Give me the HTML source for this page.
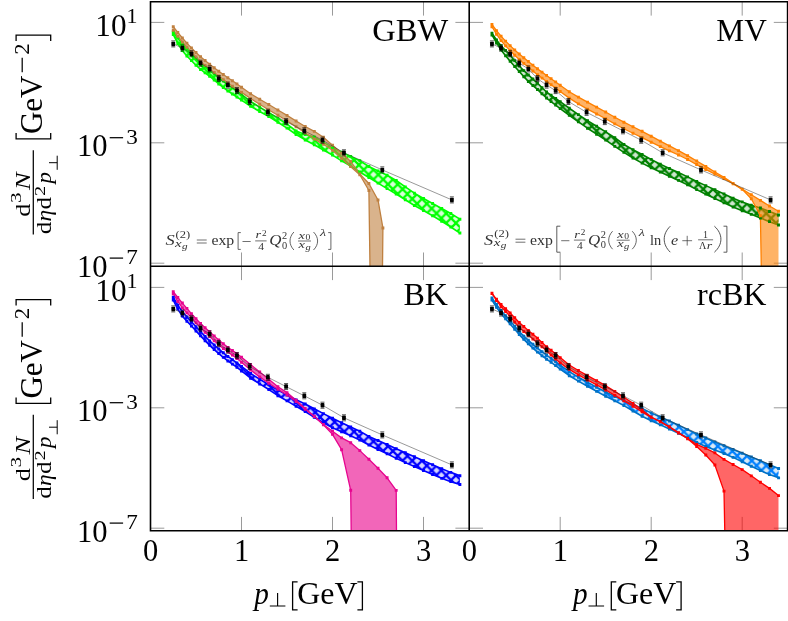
<!DOCTYPE html>
<html><head><meta charset="utf-8"><title>chart</title>
<style>
html,body{margin:0;padding:0;background:#fff;}
body{width:788px;height:621px;overflow:hidden;font-family:"Liberation Serif",serif;}
svg{display:block;}
svg text{font-family:"Liberation Serif",serif;fill:#000;}
.i{font-style:italic;}
</style></head><body>
<svg width="788" height="621" viewBox="0 0 788 621">
<rect width="788" height="621" fill="#fff"/>
<defs>
<pattern id="h_lime" width="9.7" height="9.7" patternUnits="userSpaceOnUse"><rect width="9.7" height="9.7" fill="#d8ffd8"/><path d="M-1 -1 L10.7 10.7 M-1 10.7 L10.7 -1" stroke="#00ff00" stroke-width="2.25" fill="none"/></pattern>
<pattern id="h_dgreen" width="9.7" height="9.7" patternUnits="userSpaceOnUse"><rect width="9.7" height="9.7" fill="#cfe6cf"/><path d="M-1 -1 L10.7 10.7 M-1 10.7 L10.7 -1" stroke="#008000" stroke-width="2.25" fill="none"/></pattern>
<pattern id="h_blue" width="9.7" height="9.7" patternUnits="userSpaceOnUse"><rect width="9.7" height="9.7" fill="#d4d4ff"/><path d="M-1 -1 L10.7 10.7 M-1 10.7 L10.7 -1" stroke="#0000ff" stroke-width="2.25" fill="none"/></pattern>
<pattern id="h_lblue" width="9.7" height="9.7" patternUnits="userSpaceOnUse"><rect width="9.7" height="9.7" fill="#d9e9f6"/><path d="M-1 -1 L10.7 10.7 M-1 10.7 L10.7 -1" stroke="#0080ff" stroke-width="2.25" fill="none"/></pattern>
<clipPath id="c00"><rect x="150.5" y="1.8" width="318.7" height="264.5"/></clipPath>
<clipPath id="c01"><rect x="469.2" y="1.8" width="318.4" height="264.5"/></clipPath>
<clipPath id="c10"><rect x="150.5" y="266.3" width="318.7" height="264.4"/></clipPath>
<clipPath id="c11"><rect x="469.2" y="266.3" width="318.4" height="264.4"/></clipPath>
</defs>
<path d="M150.5 22.4 h13.8 M469.2 22.4 h-13.8 M150.5 142.8 h13.8 M469.2 142.8 h-13.8 M150.5 263.2 h13.8 M469.2 263.2 h-13.8 M241.5 1.8 v13.8 M241.5 266.3 v-13.8 M332.5 1.8 v13.8 M332.5 266.3 v-13.8 M423.5 1.8 v13.8 M423.5 266.3 v-13.8 M469.2 22.4 h13.8 M787.6 22.4 h-13.8 M469.2 142.8 h13.8 M787.6 142.8 h-13.8 M469.2 263.2 h13.8 M787.6 263.2 h-13.8 M560.2 1.8 v13.8 M560.2 266.3 v-13.8 M651.2 1.8 v13.8 M651.2 266.3 v-13.8 M742.2 1.8 v13.8 M742.2 266.3 v-13.8 M150.5 287.4 h13.8 M469.2 287.4 h-13.8 M150.5 407.8 h13.8 M469.2 407.8 h-13.8 M150.5 528.2 h13.8 M469.2 528.2 h-13.8 M241.5 266.3 v13.8 M241.5 530.7 v-13.8 M332.5 266.3 v13.8 M332.5 530.7 v-13.8 M423.5 266.3 v13.8 M423.5 530.7 v-13.8 M469.2 287.4 h13.8 M787.6 287.4 h-13.8 M469.2 407.8 h13.8 M787.6 407.8 h-13.8 M469.2 528.2 h13.8 M787.6 528.2 h-13.8 M560.2 266.3 v13.8 M560.2 530.7 v-13.8 M651.2 266.3 v13.8 M651.2 530.7 v-13.8 M742.2 266.3 v13.8 M742.2 530.7 v-13.8" stroke="#808080" stroke-width="0.8" fill="none"/>
<g clip-path="url(#c00)">
<path d="M173.25 31.99 L177.8 38.15 L182.35 43.8 L186.9 48.86 L191.45 53.66 L196 58.52 L200.55 63.05 L205.1 66.94 L209.65 70.56 L214.2 74.09 L218.75 77.56 L223.3 81.15 L227.85 84.64 L232.4 87.76 L236.95 90.86 L241.5 94.37 L250.6 101.35 L259.7 107.1 L268.8 112.62 L277.9 118.22 L287 124.05 L296.1 130.9 L305.2 134.51 L314.3 136.92 L323.4 142.41 L332.5 147.33 L341.6 152.1 L350.7 156.45 L359.8 160.79 L368.9 166.53 L378 170.86 L387.1 175.27 L396.2 180.5 L405.3 186.86 L414.4 193.2 L423.5 198.5 L432.6 203.5 L441.7 208.48 L450.8 213.55 L459.9 219.18 L459.9 233.06 L450.8 226.99 L441.7 221.25 L432.6 215.77 L423.5 210.66 L414.4 205.5 L405.3 199.78 L396.2 193.99 L387.1 188.63 L378 183.15 L368.9 177.55 L359.8 172.04 L350.7 166.14 L341.6 160.92 L332.5 155.1 L323.4 150.04 L314.3 144.77 L305.2 139.93 L296.1 134.48 L287 128.13 L277.9 122.23 L268.8 116.6 L259.7 111.45 L250.6 106.29 L241.5 100.13 L236.95 96.97 L232.4 93.99 L227.85 90.94 L223.3 87.55 L218.75 83.96 L214.2 80.1 L209.65 76.26 L205.1 72.91 L200.55 69.44 L196 65.26 L191.45 60.65 L186.9 56 L182.35 50.64 L177.8 43.47 L173.25 34.54 Z" fill="url(#h_lime)" fill-opacity="1" stroke="none"/>
<path d="M173.25 31.99 L177.8 38.15 L182.35 43.8 L186.9 48.86 L191.45 53.66 L196 58.52 L200.55 63.05 L205.1 66.94 L209.65 70.56 L214.2 74.09 L218.75 77.56 L223.3 81.15 L227.85 84.64 L232.4 87.76 L236.95 90.86 L241.5 94.37 L250.6 101.35 L259.7 107.1 L268.8 112.62 L277.9 118.22 L287 124.05 L296.1 130.9 L305.2 134.51 L314.3 136.92 L323.4 142.41 L332.5 147.33 L341.6 152.1 L350.7 156.45 L359.8 160.79 L368.9 166.53 L378 170.86 L387.1 175.27 L396.2 180.5 L405.3 186.86 L414.4 193.2 L423.5 198.5 L432.6 203.5 L441.7 208.48 L450.8 213.55 L459.9 219.18" stroke="#00ff00" stroke-width="1.6" fill="none" stroke-linejoin="round"/>
<path d="M173.25 34.54 L177.8 43.47 L182.35 50.64 L186.9 56 L191.45 60.65 L196 65.26 L200.55 69.44 L205.1 72.91 L209.65 76.26 L214.2 80.1 L218.75 83.96 L223.3 87.55 L227.85 90.94 L232.4 93.99 L236.95 96.97 L241.5 100.13 L250.6 106.29 L259.7 111.45 L268.8 116.6 L277.9 122.23 L287 128.13 L296.1 134.48 L305.2 139.93 L314.3 144.77 L323.4 150.04 L332.5 155.1 L341.6 160.92 L350.7 166.14 L359.8 172.04 L368.9 177.55 L378 183.15 L387.1 188.63 L396.2 193.99 L405.3 199.78 L414.4 205.5 L423.5 210.66 L432.6 215.77 L441.7 221.25 L450.8 226.99 L459.9 233.06" stroke="#00ff00" stroke-width="1.6" fill="none" stroke-linejoin="round"/>
<path d="M173.25 26.71 L177.8 32.49 L182.35 37.94 L186.9 43.08 L191.45 47.9 L196 52.45 L200.55 56.69 L205.1 60.56 L209.65 64.21 L214.2 67.78 L218.75 71.21 L223.3 74.5 L227.85 77.68 L232.4 80.79 L236.95 83.91 L241.5 87.25 L250.6 93.77 L259.7 99.26 L268.8 104.55 L277.9 109.96 L287 115.42 L296.1 121.07 L305.2 126.46 L314.3 131.33 L323.4 137.3 L332.5 145.24 L341.6 152.95 L350.7 161.54 L359.8 173.98 L368.9 183.45 L378 199.96 L382.9 227.95 L382.5 268 L370 268 L368.9 190.55 L359.8 174.73 L350.7 166.66 L341.6 158.38 L332.5 150.33 L323.4 144.32 L314.3 139.04 L305.2 132.93 L296.1 126.73 L287 120.74 L277.9 115.28 L268.8 109.96 L259.7 104.31 L250.6 98.47 L241.5 92.41 L236.95 89.32 L232.4 86.26 L227.85 83.09 L223.3 79.6 L218.75 76.01 L214.2 72.54 L209.65 69.01 L205.1 65.39 L200.55 61.5 L196 56.98 L191.45 52.11 L186.9 47.22 L182.35 42.05 L177.8 36.38 L173.25 30.24 Z" fill="#bf8040" fill-opacity="0.6" stroke="none"/>
<path d="M173.25 26.71 L177.8 32.49 L182.35 37.94 L186.9 43.08 L191.45 47.9 L196 52.45 L200.55 56.69 L205.1 60.56 L209.65 64.21 L214.2 67.78 L218.75 71.21 L223.3 74.5 L227.85 77.68 L232.4 80.79 L236.95 83.91 L241.5 87.25 L250.6 93.77 L259.7 99.26 L268.8 104.55 L277.9 109.96 L287 115.42 L296.1 121.07 L305.2 126.46 L314.3 131.33 L323.4 137.3 L332.5 145.24 L341.6 152.95 L350.7 161.54 L359.8 173.98 L368.9 183.45 L378 199.96 L382.9 227.95 L382.5 268" stroke="#bf8040" stroke-width="1.3" fill="none" stroke-linejoin="round"/>
<path d="M173.25 30.24 L177.8 36.38 L182.35 42.05 L186.9 47.22 L191.45 52.11 L196 56.98 L200.55 61.5 L205.1 65.39 L209.65 69.01 L214.2 72.54 L218.75 76.01 L223.3 79.6 L227.85 83.09 L232.4 86.26 L236.95 89.32 L241.5 92.41 L250.6 98.47 L259.7 104.31 L268.8 109.96 L277.9 115.28 L287 120.74 L296.1 126.73 L305.2 132.93 L314.3 139.04 L323.4 144.32 L332.5 150.33 L341.6 158.38 L350.7 166.66 L359.8 174.73 L368.9 190.55 L370 268" stroke="#bf8040" stroke-width="1.3" fill="none" stroke-linejoin="round"/>
<path d="M171.8 30.54 h2.9 v2.9 h-2.9 Z M176.35 36.7 h2.9 v2.9 h-2.9 Z M180.9 42.35 h2.9 v2.9 h-2.9 Z M185.45 47.41 h2.9 v2.9 h-2.9 Z M190 52.21 h2.9 v2.9 h-2.9 Z M194.55 57.07 h2.9 v2.9 h-2.9 Z M199.1 61.6 h2.9 v2.9 h-2.9 Z M203.65 65.49 h2.9 v2.9 h-2.9 Z M208.2 69.11 h2.9 v2.9 h-2.9 Z M212.75 72.64 h2.9 v2.9 h-2.9 Z M217.3 76.11 h2.9 v2.9 h-2.9 Z M221.85 79.7 h2.9 v2.9 h-2.9 Z M226.4 83.19 h2.9 v2.9 h-2.9 Z M230.95 86.31 h2.9 v2.9 h-2.9 Z M235.5 89.41 h2.9 v2.9 h-2.9 Z M240.05 92.92 h2.9 v2.9 h-2.9 Z M249.15 99.9 h2.9 v2.9 h-2.9 Z M258.25 105.65 h2.9 v2.9 h-2.9 Z M267.35 111.17 h2.9 v2.9 h-2.9 Z M276.45 116.77 h2.9 v2.9 h-2.9 Z M285.55 122.6 h2.9 v2.9 h-2.9 Z M294.65 129.45 h2.9 v2.9 h-2.9 Z M303.75 133.06 h2.9 v2.9 h-2.9 Z M312.85 135.47 h2.9 v2.9 h-2.9 Z M321.95 140.96 h2.9 v2.9 h-2.9 Z M331.05 145.88 h2.9 v2.9 h-2.9 Z M340.15 150.65 h2.9 v2.9 h-2.9 Z M349.25 155 h2.9 v2.9 h-2.9 Z M358.35 159.34 h2.9 v2.9 h-2.9 Z M367.45 165.08 h2.9 v2.9 h-2.9 Z M376.55 169.41 h2.9 v2.9 h-2.9 Z M385.65 173.82 h2.9 v2.9 h-2.9 Z M394.75 179.05 h2.9 v2.9 h-2.9 Z M403.85 185.41 h2.9 v2.9 h-2.9 Z M412.95 191.75 h2.9 v2.9 h-2.9 Z M422.05 197.05 h2.9 v2.9 h-2.9 Z M431.15 202.05 h2.9 v2.9 h-2.9 Z M440.25 207.03 h2.9 v2.9 h-2.9 Z M449.35 212.1 h2.9 v2.9 h-2.9 Z M458.45 217.73 h2.9 v2.9 h-2.9 Z M171.8 33.09 h2.9 v2.9 h-2.9 Z M176.35 42.02 h2.9 v2.9 h-2.9 Z M180.9 49.19 h2.9 v2.9 h-2.9 Z M185.45 54.55 h2.9 v2.9 h-2.9 Z M190 59.2 h2.9 v2.9 h-2.9 Z M194.55 63.81 h2.9 v2.9 h-2.9 Z M199.1 67.99 h2.9 v2.9 h-2.9 Z M203.65 71.46 h2.9 v2.9 h-2.9 Z M208.2 74.81 h2.9 v2.9 h-2.9 Z M212.75 78.65 h2.9 v2.9 h-2.9 Z M217.3 82.51 h2.9 v2.9 h-2.9 Z M221.85 86.1 h2.9 v2.9 h-2.9 Z M226.4 89.49 h2.9 v2.9 h-2.9 Z M230.95 92.54 h2.9 v2.9 h-2.9 Z M235.5 95.52 h2.9 v2.9 h-2.9 Z M240.05 98.68 h2.9 v2.9 h-2.9 Z M249.15 104.84 h2.9 v2.9 h-2.9 Z M258.25 110 h2.9 v2.9 h-2.9 Z M267.35 115.15 h2.9 v2.9 h-2.9 Z M276.45 120.78 h2.9 v2.9 h-2.9 Z M285.55 126.68 h2.9 v2.9 h-2.9 Z M294.65 133.03 h2.9 v2.9 h-2.9 Z M303.75 138.48 h2.9 v2.9 h-2.9 Z M312.85 143.32 h2.9 v2.9 h-2.9 Z M321.95 148.59 h2.9 v2.9 h-2.9 Z M331.05 153.65 h2.9 v2.9 h-2.9 Z M340.15 159.47 h2.9 v2.9 h-2.9 Z M349.25 164.69 h2.9 v2.9 h-2.9 Z M358.35 170.59 h2.9 v2.9 h-2.9 Z M367.45 176.1 h2.9 v2.9 h-2.9 Z M376.55 181.7 h2.9 v2.9 h-2.9 Z M385.65 187.18 h2.9 v2.9 h-2.9 Z M394.75 192.54 h2.9 v2.9 h-2.9 Z M403.85 198.33 h2.9 v2.9 h-2.9 Z M412.95 204.05 h2.9 v2.9 h-2.9 Z M422.05 209.21 h2.9 v2.9 h-2.9 Z M431.15 214.32 h2.9 v2.9 h-2.9 Z M440.25 219.8 h2.9 v2.9 h-2.9 Z M449.35 225.54 h2.9 v2.9 h-2.9 Z M458.45 231.61 h2.9 v2.9 h-2.9 Z" fill="#00ff00"/>
<path d="M171.8 25.26 h2.9 v2.9 h-2.9 Z M176.35 31.04 h2.9 v2.9 h-2.9 Z M180.9 36.49 h2.9 v2.9 h-2.9 Z M185.45 41.63 h2.9 v2.9 h-2.9 Z M190 46.45 h2.9 v2.9 h-2.9 Z M194.55 51 h2.9 v2.9 h-2.9 Z M199.1 55.24 h2.9 v2.9 h-2.9 Z M203.65 59.11 h2.9 v2.9 h-2.9 Z M208.2 62.76 h2.9 v2.9 h-2.9 Z M212.75 66.33 h2.9 v2.9 h-2.9 Z M217.3 69.76 h2.9 v2.9 h-2.9 Z M221.85 73.05 h2.9 v2.9 h-2.9 Z M226.4 76.23 h2.9 v2.9 h-2.9 Z M230.95 79.34 h2.9 v2.9 h-2.9 Z M235.5 82.46 h2.9 v2.9 h-2.9 Z M240.05 85.8 h2.9 v2.9 h-2.9 Z M249.15 92.32 h2.9 v2.9 h-2.9 Z M258.25 97.81 h2.9 v2.9 h-2.9 Z M267.35 103.1 h2.9 v2.9 h-2.9 Z M276.45 108.51 h2.9 v2.9 h-2.9 Z M285.55 113.97 h2.9 v2.9 h-2.9 Z M294.65 119.62 h2.9 v2.9 h-2.9 Z M303.75 125.01 h2.9 v2.9 h-2.9 Z M312.85 129.88 h2.9 v2.9 h-2.9 Z M321.95 135.85 h2.9 v2.9 h-2.9 Z M331.05 143.79 h2.9 v2.9 h-2.9 Z M340.15 151.5 h2.9 v2.9 h-2.9 Z M349.25 160.09 h2.9 v2.9 h-2.9 Z M358.35 172.53 h2.9 v2.9 h-2.9 Z M367.45 182 h2.9 v2.9 h-2.9 Z M376.55 198.51 h2.9 v2.9 h-2.9 Z M381.45 226.5 h2.9 v2.9 h-2.9 Z M171.8 28.79 h2.9 v2.9 h-2.9 Z M176.35 34.93 h2.9 v2.9 h-2.9 Z M180.9 40.6 h2.9 v2.9 h-2.9 Z M185.45 45.77 h2.9 v2.9 h-2.9 Z M190 50.66 h2.9 v2.9 h-2.9 Z M194.55 55.53 h2.9 v2.9 h-2.9 Z M199.1 60.05 h2.9 v2.9 h-2.9 Z M203.65 63.94 h2.9 v2.9 h-2.9 Z M208.2 67.56 h2.9 v2.9 h-2.9 Z M212.75 71.09 h2.9 v2.9 h-2.9 Z M217.3 74.56 h2.9 v2.9 h-2.9 Z M221.85 78.15 h2.9 v2.9 h-2.9 Z M226.4 81.64 h2.9 v2.9 h-2.9 Z M230.95 84.81 h2.9 v2.9 h-2.9 Z M235.5 87.87 h2.9 v2.9 h-2.9 Z M240.05 90.96 h2.9 v2.9 h-2.9 Z M249.15 97.02 h2.9 v2.9 h-2.9 Z M258.25 102.86 h2.9 v2.9 h-2.9 Z M267.35 108.51 h2.9 v2.9 h-2.9 Z M276.45 113.83 h2.9 v2.9 h-2.9 Z M285.55 119.29 h2.9 v2.9 h-2.9 Z M294.65 125.28 h2.9 v2.9 h-2.9 Z M303.75 131.48 h2.9 v2.9 h-2.9 Z M312.85 137.59 h2.9 v2.9 h-2.9 Z M321.95 142.87 h2.9 v2.9 h-2.9 Z M331.05 148.88 h2.9 v2.9 h-2.9 Z M340.15 156.93 h2.9 v2.9 h-2.9 Z M349.25 165.21 h2.9 v2.9 h-2.9 Z M358.35 173.28 h2.9 v2.9 h-2.9 Z M367.45 189.1 h2.9 v2.9 h-2.9 Z" fill="#bf8040"/>
<path d="M173.25 43.9 L182.35 48 L191.45 53.7 L200.55 63.2 L209.65 68.9 L218.75 78.6 L227.85 85.1 L236.95 90.6 L249.69 101.5 L267.89 112.3 L286.09 121.6 L304.29 130.8 L322.49 140.2 L343.97 152.8 L382.28 169.9 L451.89 199.9" stroke="#333" stroke-width="0.5" fill="none"/>
<rect x="171.35" y="41.65" width="3.8" height="4.5" rx="0.9" fill="#000"/>
<path d="M171.25 40.9 h4 M171.25 46.9 h4" stroke="#000" stroke-width="0.7"/>
<rect x="180.45" y="45.75" width="3.8" height="4.5" rx="0.9" fill="#000"/>
<path d="M180.35 45 h4 M180.35 51 h4" stroke="#000" stroke-width="0.7"/>
<rect x="189.55" y="51.45" width="3.8" height="4.5" rx="0.9" fill="#000"/>
<path d="M189.45 50.7 h4 M189.45 56.7 h4" stroke="#000" stroke-width="0.7"/>
<rect x="198.65" y="60.95" width="3.8" height="4.5" rx="0.9" fill="#000"/>
<path d="M198.55 60.2 h4 M198.55 66.2 h4" stroke="#000" stroke-width="0.7"/>
<rect x="207.75" y="66.65" width="3.8" height="4.5" rx="0.9" fill="#000"/>
<path d="M207.65 65.9 h4 M207.65 71.9 h4" stroke="#000" stroke-width="0.7"/>
<rect x="216.85" y="76.35" width="3.8" height="4.5" rx="0.9" fill="#000"/>
<path d="M216.75 75.6 h4 M216.75 81.6 h4" stroke="#000" stroke-width="0.7"/>
<rect x="225.95" y="82.85" width="3.8" height="4.5" rx="0.9" fill="#000"/>
<path d="M225.85 82.1 h4 M225.85 88.1 h4" stroke="#000" stroke-width="0.7"/>
<rect x="235.05" y="88.35" width="3.8" height="4.5" rx="0.9" fill="#000"/>
<path d="M234.95 87.6 h4 M234.95 93.6 h4" stroke="#000" stroke-width="0.7"/>
<rect x="247.79" y="99.25" width="3.8" height="4.5" rx="0.9" fill="#000"/>
<path d="M247.69 98.5 h4 M247.69 104.5 h4" stroke="#000" stroke-width="0.7"/>
<rect x="265.99" y="110.05" width="3.8" height="4.5" rx="0.9" fill="#000"/>
<path d="M265.89 109.3 h4 M265.89 115.3 h4" stroke="#000" stroke-width="0.7"/>
<rect x="284.19" y="119.35" width="3.8" height="4.5" rx="0.9" fill="#000"/>
<path d="M284.09 118.6 h4 M284.09 124.6 h4" stroke="#000" stroke-width="0.7"/>
<rect x="302.39" y="128.55" width="3.8" height="4.5" rx="0.9" fill="#000"/>
<path d="M302.29 127.8 h4 M302.29 133.8 h4" stroke="#000" stroke-width="0.7"/>
<rect x="320.59" y="137.95" width="3.8" height="4.5" rx="0.9" fill="#000"/>
<path d="M320.49 137.2 h4 M320.49 143.2 h4" stroke="#000" stroke-width="0.7"/>
<rect x="342.07" y="150.55" width="3.8" height="4.5" rx="0.9" fill="#000"/>
<path d="M341.97 149.8 h4 M341.97 155.8 h4" stroke="#000" stroke-width="0.7"/>
<rect x="380.38" y="167.65" width="3.8" height="4.5" rx="0.9" fill="#000"/>
<path d="M380.28 166.9 h4 M380.28 172.9 h4" stroke="#000" stroke-width="0.7"/>
<rect x="449.99" y="197.65" width="3.8" height="4.5" rx="0.9" fill="#000"/>
<path d="M449.89 196.9 h4 M449.89 202.9 h4" stroke="#000" stroke-width="0.7"/>
</g>
<g clip-path="url(#c01)">
<path d="M491.95 33.29 L496.5 39.96 L501.05 45.78 L505.6 50.53 L510.15 55.16 L514.7 60.66 L519.25 66.06 L523.8 70.65 L528.35 74.94 L532.9 79.04 L537.45 83.15 L542 87.73 L546.55 92 L551.1 95.31 L555.65 98.42 L560.2 101.71 L569.3 108.25 L578.4 114.61 L587.5 120.68 L596.6 126.28 L605.7 131.82 L614.8 137.66 L623.9 144.51 L633 149.72 L642.1 154.55 L651.2 159.42 L660.3 164.11 L669.4 168.46 L678.5 172.58 L687.6 176.9 L696.7 181.42 L705.8 185.61 L714.9 189.64 L724 193.99 L733.1 198.17 L742.2 201.9 L751.3 205.2 L760.4 207.93 L769.5 211.54 L778.5 214.95 L778.5 225.05 L769.5 221.64 L760.4 217.94 L751.3 214.34 L742.2 210.72 L733.1 206.97 L724 202.86 L714.9 198.54 L705.8 194.16 L696.7 189.62 L687.6 184.87 L678.5 180.41 L669.4 176.23 L660.3 171.97 L651.2 167.69 L642.1 163.14 L633 158 L623.9 152.4 L614.8 146.39 L605.7 140.17 L596.6 134.2 L587.5 128.21 L578.4 121.88 L569.3 115.33 L560.2 108.6 L555.65 105.15 L551.1 101.67 L546.55 98.01 L542 93.8 L537.45 89.45 L532.9 85.56 L528.35 81.55 L523.8 76.73 L519.25 71.57 L514.7 66.49 L510.15 61.26 L505.6 55.84 L501.05 49.91 L496.5 42.93 L491.95 34.96 Z" fill="url(#h_dgreen)" fill-opacity="1" stroke="none"/>
<path d="M491.95 33.29 L496.5 39.96 L501.05 45.78 L505.6 50.53 L510.15 55.16 L514.7 60.66 L519.25 66.06 L523.8 70.65 L528.35 74.94 L532.9 79.04 L537.45 83.15 L542 87.73 L546.55 92 L551.1 95.31 L555.65 98.42 L560.2 101.71 L569.3 108.25 L578.4 114.61 L587.5 120.68 L596.6 126.28 L605.7 131.82 L614.8 137.66 L623.9 144.51 L633 149.72 L642.1 154.55 L651.2 159.42 L660.3 164.11 L669.4 168.46 L678.5 172.58 L687.6 176.9 L696.7 181.42 L705.8 185.61 L714.9 189.64 L724 193.99 L733.1 198.17 L742.2 201.9 L751.3 205.2 L760.4 207.93 L769.5 211.54 L778.5 214.95" stroke="#008000" stroke-width="1.6" fill="none" stroke-linejoin="round"/>
<path d="M491.95 34.96 L496.5 42.93 L501.05 49.91 L505.6 55.84 L510.15 61.26 L514.7 66.49 L519.25 71.57 L523.8 76.73 L528.35 81.55 L532.9 85.56 L537.45 89.45 L542 93.8 L546.55 98.01 L551.1 101.67 L555.65 105.15 L560.2 108.6 L569.3 115.33 L578.4 121.88 L587.5 128.21 L596.6 134.2 L605.7 140.17 L614.8 146.39 L623.9 152.4 L633 158 L642.1 163.14 L651.2 167.69 L660.3 171.97 L669.4 176.23 L678.5 180.41 L687.6 184.87 L696.7 189.62 L705.8 194.16 L714.9 198.54 L724 202.86 L733.1 206.97 L742.2 210.72 L751.3 214.34 L760.4 217.94 L769.5 221.64 L778.5 225.05" stroke="#008000" stroke-width="1.6" fill="none" stroke-linejoin="round"/>
<path d="M491.95 24.36 L496.5 30.58 L501.05 36.17 L505.6 41.12 L510.15 45.65 L514.7 49.91 L519.25 53.93 L523.8 57.73 L528.35 61.42 L532.9 65.14 L537.45 68.74 L542 72.12 L546.55 75.41 L551.1 78.67 L555.65 81.92 L560.2 85.3 L569.3 91.7 L578.4 97.08 L587.5 102.14 L596.6 107.1 L605.7 112.05 L614.8 117.2 L623.9 122.18 L633 126.74 L642.1 131.32 L651.2 136.19 L660.3 141.11 L669.4 145.89 L678.5 150.6 L687.6 155.61 L696.7 160.94 L705.8 166.41 L714.9 171.98 L724 177.39 L733.1 183.39 L742.2 189.1 L751.3 194.8 L760.4 200.36 L769.5 206.06 L778.5 211.3 L778.5 268 L761.3 268 L760.4 215.7 L751.3 198.7 L742.2 189.4 L733.1 183.69 L724 178.65 L714.9 174.15 L705.8 169.44 L696.7 164.56 L687.6 159.53 L678.5 155 L669.4 150.89 L660.3 146.66 L651.2 142.2 L642.1 137.69 L633 133.27 L623.9 128.77 L614.8 123.84 L605.7 118.74 L596.6 113.94 L587.5 109.1 L578.4 103.85 L569.3 98.14 L560.2 91.5 L555.65 88.03 L551.1 84.72 L546.55 81.41 L542 78.08 L537.45 74.64 L532.9 70.94 L528.35 67.12 L523.8 63.41 L519.25 59.54 L514.7 55.2 L510.15 50.55 L505.6 45.83 L501.05 40.59 L496.5 34.2 L491.95 26.74 Z" fill="#ff8000" fill-opacity="0.6" stroke="none"/>
<path d="M491.95 24.36 L496.5 30.58 L501.05 36.17 L505.6 41.12 L510.15 45.65 L514.7 49.91 L519.25 53.93 L523.8 57.73 L528.35 61.42 L532.9 65.14 L537.45 68.74 L542 72.12 L546.55 75.41 L551.1 78.67 L555.65 81.92 L560.2 85.3 L569.3 91.7 L578.4 97.08 L587.5 102.14 L596.6 107.1 L605.7 112.05 L614.8 117.2 L623.9 122.18 L633 126.74 L642.1 131.32 L651.2 136.19 L660.3 141.11 L669.4 145.89 L678.5 150.6 L687.6 155.61 L696.7 160.94 L705.8 166.41 L714.9 171.98 L724 177.39 L733.1 183.39 L742.2 189.1 L751.3 194.8 L760.4 200.36 L769.5 206.06 L778.5 211.3" stroke="#ff8000" stroke-width="1.3" fill="none" stroke-linejoin="round"/>
<path d="M491.95 26.74 L496.5 34.2 L501.05 40.59 L505.6 45.83 L510.15 50.55 L514.7 55.2 L519.25 59.54 L523.8 63.41 L528.35 67.12 L532.9 70.94 L537.45 74.64 L542 78.08 L546.55 81.41 L551.1 84.72 L555.65 88.03 L560.2 91.5 L569.3 98.14 L578.4 103.85 L587.5 109.1 L596.6 113.94 L605.7 118.74 L614.8 123.84 L623.9 128.77 L633 133.27 L642.1 137.69 L651.2 142.2 L660.3 146.66 L669.4 150.89 L678.5 155 L687.6 159.53 L696.7 164.56 L705.8 169.44 L714.9 174.15 L724 178.65 L733.1 183.69 L742.2 189.4 L751.3 198.7 L760.4 215.7 L761.3 268" stroke="#ff8000" stroke-width="1.3" fill="none" stroke-linejoin="round"/>
<path d="M490.5 31.84 h2.9 v2.9 h-2.9 Z M495.05 38.51 h2.9 v2.9 h-2.9 Z M499.6 44.33 h2.9 v2.9 h-2.9 Z M504.15 49.08 h2.9 v2.9 h-2.9 Z M508.7 53.71 h2.9 v2.9 h-2.9 Z M513.25 59.21 h2.9 v2.9 h-2.9 Z M517.8 64.61 h2.9 v2.9 h-2.9 Z M522.35 69.2 h2.9 v2.9 h-2.9 Z M526.9 73.49 h2.9 v2.9 h-2.9 Z M531.45 77.59 h2.9 v2.9 h-2.9 Z M536 81.7 h2.9 v2.9 h-2.9 Z M540.55 86.28 h2.9 v2.9 h-2.9 Z M545.1 90.55 h2.9 v2.9 h-2.9 Z M549.65 93.86 h2.9 v2.9 h-2.9 Z M554.2 96.97 h2.9 v2.9 h-2.9 Z M558.75 100.26 h2.9 v2.9 h-2.9 Z M567.85 106.8 h2.9 v2.9 h-2.9 Z M576.95 113.16 h2.9 v2.9 h-2.9 Z M586.05 119.23 h2.9 v2.9 h-2.9 Z M595.15 124.83 h2.9 v2.9 h-2.9 Z M604.25 130.37 h2.9 v2.9 h-2.9 Z M613.35 136.21 h2.9 v2.9 h-2.9 Z M622.45 143.06 h2.9 v2.9 h-2.9 Z M631.55 148.27 h2.9 v2.9 h-2.9 Z M640.65 153.1 h2.9 v2.9 h-2.9 Z M649.75 157.97 h2.9 v2.9 h-2.9 Z M658.85 162.66 h2.9 v2.9 h-2.9 Z M667.95 167.01 h2.9 v2.9 h-2.9 Z M677.05 171.13 h2.9 v2.9 h-2.9 Z M686.15 175.45 h2.9 v2.9 h-2.9 Z M695.25 179.97 h2.9 v2.9 h-2.9 Z M704.35 184.16 h2.9 v2.9 h-2.9 Z M713.45 188.19 h2.9 v2.9 h-2.9 Z M722.55 192.54 h2.9 v2.9 h-2.9 Z M731.65 196.72 h2.9 v2.9 h-2.9 Z M740.75 200.45 h2.9 v2.9 h-2.9 Z M749.85 203.75 h2.9 v2.9 h-2.9 Z M758.95 206.48 h2.9 v2.9 h-2.9 Z M768.05 210.09 h2.9 v2.9 h-2.9 Z M777.05 213.5 h2.9 v2.9 h-2.9 Z M490.5 33.51 h2.9 v2.9 h-2.9 Z M495.05 41.48 h2.9 v2.9 h-2.9 Z M499.6 48.46 h2.9 v2.9 h-2.9 Z M504.15 54.39 h2.9 v2.9 h-2.9 Z M508.7 59.81 h2.9 v2.9 h-2.9 Z M513.25 65.04 h2.9 v2.9 h-2.9 Z M517.8 70.12 h2.9 v2.9 h-2.9 Z M522.35 75.28 h2.9 v2.9 h-2.9 Z M526.9 80.1 h2.9 v2.9 h-2.9 Z M531.45 84.11 h2.9 v2.9 h-2.9 Z M536 88 h2.9 v2.9 h-2.9 Z M540.55 92.35 h2.9 v2.9 h-2.9 Z M545.1 96.56 h2.9 v2.9 h-2.9 Z M549.65 100.22 h2.9 v2.9 h-2.9 Z M554.2 103.7 h2.9 v2.9 h-2.9 Z M558.75 107.15 h2.9 v2.9 h-2.9 Z M567.85 113.88 h2.9 v2.9 h-2.9 Z M576.95 120.43 h2.9 v2.9 h-2.9 Z M586.05 126.76 h2.9 v2.9 h-2.9 Z M595.15 132.75 h2.9 v2.9 h-2.9 Z M604.25 138.72 h2.9 v2.9 h-2.9 Z M613.35 144.94 h2.9 v2.9 h-2.9 Z M622.45 150.95 h2.9 v2.9 h-2.9 Z M631.55 156.55 h2.9 v2.9 h-2.9 Z M640.65 161.69 h2.9 v2.9 h-2.9 Z M649.75 166.24 h2.9 v2.9 h-2.9 Z M658.85 170.52 h2.9 v2.9 h-2.9 Z M667.95 174.78 h2.9 v2.9 h-2.9 Z M677.05 178.96 h2.9 v2.9 h-2.9 Z M686.15 183.42 h2.9 v2.9 h-2.9 Z M695.25 188.17 h2.9 v2.9 h-2.9 Z M704.35 192.71 h2.9 v2.9 h-2.9 Z M713.45 197.09 h2.9 v2.9 h-2.9 Z M722.55 201.41 h2.9 v2.9 h-2.9 Z M731.65 205.52 h2.9 v2.9 h-2.9 Z M740.75 209.27 h2.9 v2.9 h-2.9 Z M749.85 212.89 h2.9 v2.9 h-2.9 Z M758.95 216.49 h2.9 v2.9 h-2.9 Z M768.05 220.19 h2.9 v2.9 h-2.9 Z M777.05 223.6 h2.9 v2.9 h-2.9 Z" fill="#008000"/>
<path d="M490.5 22.91 h2.9 v2.9 h-2.9 Z M495.05 29.13 h2.9 v2.9 h-2.9 Z M499.6 34.72 h2.9 v2.9 h-2.9 Z M504.15 39.67 h2.9 v2.9 h-2.9 Z M508.7 44.2 h2.9 v2.9 h-2.9 Z M513.25 48.46 h2.9 v2.9 h-2.9 Z M517.8 52.48 h2.9 v2.9 h-2.9 Z M522.35 56.28 h2.9 v2.9 h-2.9 Z M526.9 59.97 h2.9 v2.9 h-2.9 Z M531.45 63.69 h2.9 v2.9 h-2.9 Z M536 67.29 h2.9 v2.9 h-2.9 Z M540.55 70.67 h2.9 v2.9 h-2.9 Z M545.1 73.96 h2.9 v2.9 h-2.9 Z M549.65 77.22 h2.9 v2.9 h-2.9 Z M554.2 80.47 h2.9 v2.9 h-2.9 Z M558.75 83.85 h2.9 v2.9 h-2.9 Z M567.85 90.25 h2.9 v2.9 h-2.9 Z M576.95 95.63 h2.9 v2.9 h-2.9 Z M586.05 100.69 h2.9 v2.9 h-2.9 Z M595.15 105.65 h2.9 v2.9 h-2.9 Z M604.25 110.6 h2.9 v2.9 h-2.9 Z M613.35 115.75 h2.9 v2.9 h-2.9 Z M622.45 120.73 h2.9 v2.9 h-2.9 Z M631.55 125.29 h2.9 v2.9 h-2.9 Z M640.65 129.87 h2.9 v2.9 h-2.9 Z M649.75 134.74 h2.9 v2.9 h-2.9 Z M658.85 139.66 h2.9 v2.9 h-2.9 Z M667.95 144.44 h2.9 v2.9 h-2.9 Z M677.05 149.15 h2.9 v2.9 h-2.9 Z M686.15 154.16 h2.9 v2.9 h-2.9 Z M695.25 159.49 h2.9 v2.9 h-2.9 Z M704.35 164.96 h2.9 v2.9 h-2.9 Z M713.45 170.53 h2.9 v2.9 h-2.9 Z M722.55 175.94 h2.9 v2.9 h-2.9 Z M731.65 181.94 h2.9 v2.9 h-2.9 Z M740.75 187.65 h2.9 v2.9 h-2.9 Z M749.85 193.35 h2.9 v2.9 h-2.9 Z M758.95 198.91 h2.9 v2.9 h-2.9 Z M768.05 204.61 h2.9 v2.9 h-2.9 Z M777.05 209.85 h2.9 v2.9 h-2.9 Z M490.5 25.29 h2.9 v2.9 h-2.9 Z M495.05 32.75 h2.9 v2.9 h-2.9 Z M499.6 39.14 h2.9 v2.9 h-2.9 Z M504.15 44.38 h2.9 v2.9 h-2.9 Z M508.7 49.1 h2.9 v2.9 h-2.9 Z M513.25 53.75 h2.9 v2.9 h-2.9 Z M517.8 58.09 h2.9 v2.9 h-2.9 Z M522.35 61.96 h2.9 v2.9 h-2.9 Z M526.9 65.67 h2.9 v2.9 h-2.9 Z M531.45 69.49 h2.9 v2.9 h-2.9 Z M536 73.19 h2.9 v2.9 h-2.9 Z M540.55 76.63 h2.9 v2.9 h-2.9 Z M545.1 79.96 h2.9 v2.9 h-2.9 Z M549.65 83.27 h2.9 v2.9 h-2.9 Z M554.2 86.58 h2.9 v2.9 h-2.9 Z M558.75 90.05 h2.9 v2.9 h-2.9 Z M567.85 96.69 h2.9 v2.9 h-2.9 Z M576.95 102.4 h2.9 v2.9 h-2.9 Z M586.05 107.65 h2.9 v2.9 h-2.9 Z M595.15 112.49 h2.9 v2.9 h-2.9 Z M604.25 117.29 h2.9 v2.9 h-2.9 Z M613.35 122.39 h2.9 v2.9 h-2.9 Z M622.45 127.32 h2.9 v2.9 h-2.9 Z M631.55 131.82 h2.9 v2.9 h-2.9 Z M640.65 136.24 h2.9 v2.9 h-2.9 Z M649.75 140.75 h2.9 v2.9 h-2.9 Z M658.85 145.21 h2.9 v2.9 h-2.9 Z M667.95 149.44 h2.9 v2.9 h-2.9 Z M677.05 153.55 h2.9 v2.9 h-2.9 Z M686.15 158.08 h2.9 v2.9 h-2.9 Z M695.25 163.11 h2.9 v2.9 h-2.9 Z M704.35 167.99 h2.9 v2.9 h-2.9 Z M713.45 172.7 h2.9 v2.9 h-2.9 Z M722.55 177.2 h2.9 v2.9 h-2.9 Z M731.65 182.24 h2.9 v2.9 h-2.9 Z M740.75 187.95 h2.9 v2.9 h-2.9 Z M749.85 197.25 h2.9 v2.9 h-2.9 Z M758.95 214.25 h2.9 v2.9 h-2.9 Z" fill="#ff8000"/>
<path d="M491.95 43.9 L501.05 48 L510.15 53.7 L519.25 63.2 L528.35 68.9 L537.45 78.6 L546.55 85.1 L555.65 90.6 L568.39 101.5 L586.59 112.3 L604.79 121.6 L622.99 130.8 L641.19 140.2 L662.67 152.8 L700.98 169.9 L770.59 199.9" stroke="#333" stroke-width="0.5" fill="none"/>
<rect x="490.05" y="41.65" width="3.8" height="4.5" rx="0.9" fill="#000"/>
<path d="M489.95 40.9 h4 M489.95 46.9 h4" stroke="#000" stroke-width="0.7"/>
<rect x="499.15" y="45.75" width="3.8" height="4.5" rx="0.9" fill="#000"/>
<path d="M499.05 45 h4 M499.05 51 h4" stroke="#000" stroke-width="0.7"/>
<rect x="508.25" y="51.45" width="3.8" height="4.5" rx="0.9" fill="#000"/>
<path d="M508.15 50.7 h4 M508.15 56.7 h4" stroke="#000" stroke-width="0.7"/>
<rect x="517.35" y="60.95" width="3.8" height="4.5" rx="0.9" fill="#000"/>
<path d="M517.25 60.2 h4 M517.25 66.2 h4" stroke="#000" stroke-width="0.7"/>
<rect x="526.45" y="66.65" width="3.8" height="4.5" rx="0.9" fill="#000"/>
<path d="M526.35 65.9 h4 M526.35 71.9 h4" stroke="#000" stroke-width="0.7"/>
<rect x="535.55" y="76.35" width="3.8" height="4.5" rx="0.9" fill="#000"/>
<path d="M535.45 75.6 h4 M535.45 81.6 h4" stroke="#000" stroke-width="0.7"/>
<rect x="544.65" y="82.85" width="3.8" height="4.5" rx="0.9" fill="#000"/>
<path d="M544.55 82.1 h4 M544.55 88.1 h4" stroke="#000" stroke-width="0.7"/>
<rect x="553.75" y="88.35" width="3.8" height="4.5" rx="0.9" fill="#000"/>
<path d="M553.65 87.6 h4 M553.65 93.6 h4" stroke="#000" stroke-width="0.7"/>
<rect x="566.49" y="99.25" width="3.8" height="4.5" rx="0.9" fill="#000"/>
<path d="M566.39 98.5 h4 M566.39 104.5 h4" stroke="#000" stroke-width="0.7"/>
<rect x="584.69" y="110.05" width="3.8" height="4.5" rx="0.9" fill="#000"/>
<path d="M584.59 109.3 h4 M584.59 115.3 h4" stroke="#000" stroke-width="0.7"/>
<rect x="602.89" y="119.35" width="3.8" height="4.5" rx="0.9" fill="#000"/>
<path d="M602.79 118.6 h4 M602.79 124.6 h4" stroke="#000" stroke-width="0.7"/>
<rect x="621.09" y="128.55" width="3.8" height="4.5" rx="0.9" fill="#000"/>
<path d="M620.99 127.8 h4 M620.99 133.8 h4" stroke="#000" stroke-width="0.7"/>
<rect x="639.29" y="137.95" width="3.8" height="4.5" rx="0.9" fill="#000"/>
<path d="M639.19 137.2 h4 M639.19 143.2 h4" stroke="#000" stroke-width="0.7"/>
<rect x="660.77" y="150.55" width="3.8" height="4.5" rx="0.9" fill="#000"/>
<path d="M660.67 149.8 h4 M660.67 155.8 h4" stroke="#000" stroke-width="0.7"/>
<rect x="699.08" y="167.65" width="3.8" height="4.5" rx="0.9" fill="#000"/>
<path d="M698.98 166.9 h4 M698.98 172.9 h4" stroke="#000" stroke-width="0.7"/>
<rect x="768.69" y="197.65" width="3.8" height="4.5" rx="0.9" fill="#000"/>
<path d="M768.59 196.9 h4 M768.59 202.9 h4" stroke="#000" stroke-width="0.7"/>
</g>
<g clip-path="url(#c10)">
<path d="M173.25 297.23 L177.8 305.13 L182.35 311.71 L186.9 316.87 L191.45 321.69 L196 326.73 L200.55 331.66 L205.1 336.37 L209.65 340.84 L214.2 344.98 L218.75 348.93 L223.3 352.81 L227.85 356.46 L232.4 359.67 L236.95 362.84 L241.5 366.43 L250.6 373.49 L259.7 379.2 L268.8 384.61 L277.9 390.09 L287 395.14 L296.1 399.83 L305.2 404.04 L314.3 408.83 L323.4 413.66 L332.5 418.28 L341.6 422.79 L350.7 427.03 L359.8 431.22 L368.9 436.41 L378 440.54 L387.1 444.52 L396.2 448.71 L405.3 452.79 L414.4 456.73 L423.5 460.69 L432.6 464.72 L441.7 468.65 L450.8 472.37 L459.9 475.82 L459.9 484.46 L450.8 481.63 L441.7 478.33 L432.6 474.54 L423.5 470.48 L414.4 466.56 L405.3 462.63 L396.2 458.37 L387.1 453.82 L378 449.43 L368.9 445.02 L359.8 440.14 L350.7 435.8 L341.6 431.71 L332.5 427.71 L323.4 422.72 L314.3 417.27 L305.2 411.66 L296.1 406.33 L287 400.88 L277.9 395.7 L268.8 389.55 L259.7 383.94 L250.6 378.2 L241.5 370.99 L236.95 367.34 L232.4 364.15 L227.85 360.96 L223.3 357.41 L218.75 353.63 L214.2 349.62 L209.65 345.35 L205.1 340.71 L200.55 335.86 L196 330.95 L191.45 325.98 L186.9 321.28 L182.35 316.14 L177.8 309.06 L173.25 300.08 Z" fill="url(#h_blue)" fill-opacity="1" stroke="none"/>
<path d="M173.25 297.23 L177.8 305.13 L182.35 311.71 L186.9 316.87 L191.45 321.69 L196 326.73 L200.55 331.66 L205.1 336.37 L209.65 340.84 L214.2 344.98 L218.75 348.93 L223.3 352.81 L227.85 356.46 L232.4 359.67 L236.95 362.84 L241.5 366.43 L250.6 373.49 L259.7 379.2 L268.8 384.61 L277.9 390.09 L287 395.14 L296.1 399.83 L305.2 404.04 L314.3 408.83 L323.4 413.66 L332.5 418.28 L341.6 422.79 L350.7 427.03 L359.8 431.22 L368.9 436.41 L378 440.54 L387.1 444.52 L396.2 448.71 L405.3 452.79 L414.4 456.73 L423.5 460.69 L432.6 464.72 L441.7 468.65 L450.8 472.37 L459.9 475.82" stroke="#0000ff" stroke-width="1.6" fill="none" stroke-linejoin="round"/>
<path d="M173.25 300.08 L177.8 309.06 L182.35 316.14 L186.9 321.28 L191.45 325.98 L196 330.95 L200.55 335.86 L205.1 340.71 L209.65 345.35 L214.2 349.62 L218.75 353.63 L223.3 357.41 L227.85 360.96 L232.4 364.15 L236.95 367.34 L241.5 370.99 L250.6 378.2 L259.7 383.94 L268.8 389.55 L277.9 395.7 L287 400.88 L296.1 406.33 L305.2 411.66 L314.3 417.27 L323.4 422.72 L332.5 427.71 L341.6 431.71 L350.7 435.8 L359.8 440.14 L368.9 445.02 L378 449.43 L387.1 453.82 L396.2 458.37 L405.3 462.63 L414.4 466.56 L423.5 470.48 L432.6 474.54 L441.7 478.33 L450.8 481.63 L459.9 484.46" stroke="#0000ff" stroke-width="1.6" fill="none" stroke-linejoin="round"/>
<path d="M173.25 291.71 L177.8 297.49 L182.35 303.06 L186.9 308.41 L191.45 313.6 L196 318.74 L200.55 323.55 L205.1 327.73 L209.65 331.74 L214.2 335.89 L218.75 339.93 L223.3 343.77 L227.85 347.36 L232.4 350.51 L236.95 353.64 L241.5 357.17 L250.6 364.61 L259.7 371.97 L268.8 379.31 L277.9 386.69 L287 392.6 L296.1 400.19 L305.2 408.57 L314.3 416.15 L323.4 424.47 L332.5 431.15 L341.6 437.86 L350.7 442.69 L359.8 450.61 L368.9 459.19 L378 468.29 L387.1 477.8 L396.2 490.42 L396.5 532.5 L351.2 532.5 L350.7 490.3 L341.6 449.7 L332.5 434.39 L323.4 424.77 L314.3 416.45 L305.2 409.2 L296.1 401.52 L287 395.06 L277.9 389.25 L268.8 383.28 L259.7 376.9 L250.6 370.09 L241.5 362.35 L236.95 358.54 L232.4 355.16 L227.85 351.86 L223.3 348.44 L218.75 344.83 L214.2 340.81 L209.65 336.54 L205.1 332.2 L200.55 327.66 L196 322.72 L191.45 317.64 L186.9 312.92 L182.35 307.9 L177.8 301.46 L173.25 293.71 Z" fill="#e9008a" fill-opacity="0.6" stroke="none"/>
<path d="M173.25 291.71 L177.8 297.49 L182.35 303.06 L186.9 308.41 L191.45 313.6 L196 318.74 L200.55 323.55 L205.1 327.73 L209.65 331.74 L214.2 335.89 L218.75 339.93 L223.3 343.77 L227.85 347.36 L232.4 350.51 L236.95 353.64 L241.5 357.17 L250.6 364.61 L259.7 371.97 L268.8 379.31 L277.9 386.69 L287 392.6 L296.1 400.19 L305.2 408.57 L314.3 416.15 L323.4 424.47 L332.5 431.15 L341.6 437.86 L350.7 442.69 L359.8 450.61 L368.9 459.19 L378 468.29 L387.1 477.8 L396.2 490.42 L396.5 532.5" stroke="#e6058f" stroke-width="1.3" fill="none" stroke-linejoin="round"/>
<path d="M173.25 293.71 L177.8 301.46 L182.35 307.9 L186.9 312.92 L191.45 317.64 L196 322.72 L200.55 327.66 L205.1 332.2 L209.65 336.54 L214.2 340.81 L218.75 344.83 L223.3 348.44 L227.85 351.86 L232.4 355.16 L236.95 358.54 L241.5 362.35 L250.6 370.09 L259.7 376.9 L268.8 383.28 L277.9 389.25 L287 395.06 L296.1 401.52 L305.2 409.2 L314.3 416.45 L323.4 424.77 L332.5 434.39 L341.6 449.7 L350.7 490.3 L351.2 532.5" stroke="#e6058f" stroke-width="1.3" fill="none" stroke-linejoin="round"/>
<path d="M171.8 295.78 h2.9 v2.9 h-2.9 Z M176.35 303.68 h2.9 v2.9 h-2.9 Z M180.9 310.26 h2.9 v2.9 h-2.9 Z M185.45 315.42 h2.9 v2.9 h-2.9 Z M190 320.24 h2.9 v2.9 h-2.9 Z M194.55 325.28 h2.9 v2.9 h-2.9 Z M199.1 330.21 h2.9 v2.9 h-2.9 Z M203.65 334.92 h2.9 v2.9 h-2.9 Z M208.2 339.39 h2.9 v2.9 h-2.9 Z M212.75 343.53 h2.9 v2.9 h-2.9 Z M217.3 347.48 h2.9 v2.9 h-2.9 Z M221.85 351.36 h2.9 v2.9 h-2.9 Z M226.4 355.01 h2.9 v2.9 h-2.9 Z M230.95 358.22 h2.9 v2.9 h-2.9 Z M235.5 361.39 h2.9 v2.9 h-2.9 Z M240.05 364.98 h2.9 v2.9 h-2.9 Z M249.15 372.04 h2.9 v2.9 h-2.9 Z M258.25 377.75 h2.9 v2.9 h-2.9 Z M267.35 383.16 h2.9 v2.9 h-2.9 Z M276.45 388.64 h2.9 v2.9 h-2.9 Z M285.55 393.69 h2.9 v2.9 h-2.9 Z M294.65 398.38 h2.9 v2.9 h-2.9 Z M303.75 402.59 h2.9 v2.9 h-2.9 Z M312.85 407.38 h2.9 v2.9 h-2.9 Z M321.95 412.21 h2.9 v2.9 h-2.9 Z M331.05 416.83 h2.9 v2.9 h-2.9 Z M340.15 421.34 h2.9 v2.9 h-2.9 Z M349.25 425.58 h2.9 v2.9 h-2.9 Z M358.35 429.77 h2.9 v2.9 h-2.9 Z M367.45 434.96 h2.9 v2.9 h-2.9 Z M376.55 439.09 h2.9 v2.9 h-2.9 Z M385.65 443.07 h2.9 v2.9 h-2.9 Z M394.75 447.26 h2.9 v2.9 h-2.9 Z M403.85 451.34 h2.9 v2.9 h-2.9 Z M412.95 455.28 h2.9 v2.9 h-2.9 Z M422.05 459.24 h2.9 v2.9 h-2.9 Z M431.15 463.27 h2.9 v2.9 h-2.9 Z M440.25 467.2 h2.9 v2.9 h-2.9 Z M449.35 470.92 h2.9 v2.9 h-2.9 Z M458.45 474.37 h2.9 v2.9 h-2.9 Z M171.8 298.63 h2.9 v2.9 h-2.9 Z M176.35 307.61 h2.9 v2.9 h-2.9 Z M180.9 314.69 h2.9 v2.9 h-2.9 Z M185.45 319.83 h2.9 v2.9 h-2.9 Z M190 324.53 h2.9 v2.9 h-2.9 Z M194.55 329.5 h2.9 v2.9 h-2.9 Z M199.1 334.41 h2.9 v2.9 h-2.9 Z M203.65 339.26 h2.9 v2.9 h-2.9 Z M208.2 343.9 h2.9 v2.9 h-2.9 Z M212.75 348.17 h2.9 v2.9 h-2.9 Z M217.3 352.18 h2.9 v2.9 h-2.9 Z M221.85 355.96 h2.9 v2.9 h-2.9 Z M226.4 359.51 h2.9 v2.9 h-2.9 Z M230.95 362.7 h2.9 v2.9 h-2.9 Z M235.5 365.89 h2.9 v2.9 h-2.9 Z M240.05 369.54 h2.9 v2.9 h-2.9 Z M249.15 376.75 h2.9 v2.9 h-2.9 Z M258.25 382.49 h2.9 v2.9 h-2.9 Z M267.35 388.1 h2.9 v2.9 h-2.9 Z M276.45 394.25 h2.9 v2.9 h-2.9 Z M285.55 399.43 h2.9 v2.9 h-2.9 Z M294.65 404.88 h2.9 v2.9 h-2.9 Z M303.75 410.21 h2.9 v2.9 h-2.9 Z M312.85 415.82 h2.9 v2.9 h-2.9 Z M321.95 421.27 h2.9 v2.9 h-2.9 Z M331.05 426.26 h2.9 v2.9 h-2.9 Z M340.15 430.26 h2.9 v2.9 h-2.9 Z M349.25 434.35 h2.9 v2.9 h-2.9 Z M358.35 438.69 h2.9 v2.9 h-2.9 Z M367.45 443.57 h2.9 v2.9 h-2.9 Z M376.55 447.98 h2.9 v2.9 h-2.9 Z M385.65 452.37 h2.9 v2.9 h-2.9 Z M394.75 456.92 h2.9 v2.9 h-2.9 Z M403.85 461.18 h2.9 v2.9 h-2.9 Z M412.95 465.11 h2.9 v2.9 h-2.9 Z M422.05 469.03 h2.9 v2.9 h-2.9 Z M431.15 473.09 h2.9 v2.9 h-2.9 Z M440.25 476.88 h2.9 v2.9 h-2.9 Z M449.35 480.18 h2.9 v2.9 h-2.9 Z M458.45 483.01 h2.9 v2.9 h-2.9 Z" fill="#0000ff"/>
<path d="M171.8 290.26 h2.9 v2.9 h-2.9 Z M176.35 296.04 h2.9 v2.9 h-2.9 Z M180.9 301.61 h2.9 v2.9 h-2.9 Z M185.45 306.96 h2.9 v2.9 h-2.9 Z M190 312.15 h2.9 v2.9 h-2.9 Z M194.55 317.29 h2.9 v2.9 h-2.9 Z M199.1 322.1 h2.9 v2.9 h-2.9 Z M203.65 326.28 h2.9 v2.9 h-2.9 Z M208.2 330.29 h2.9 v2.9 h-2.9 Z M212.75 334.44 h2.9 v2.9 h-2.9 Z M217.3 338.48 h2.9 v2.9 h-2.9 Z M221.85 342.32 h2.9 v2.9 h-2.9 Z M226.4 345.91 h2.9 v2.9 h-2.9 Z M230.95 349.06 h2.9 v2.9 h-2.9 Z M235.5 352.19 h2.9 v2.9 h-2.9 Z M240.05 355.72 h2.9 v2.9 h-2.9 Z M249.15 363.16 h2.9 v2.9 h-2.9 Z M258.25 370.52 h2.9 v2.9 h-2.9 Z M267.35 377.86 h2.9 v2.9 h-2.9 Z M276.45 385.24 h2.9 v2.9 h-2.9 Z M285.55 391.15 h2.9 v2.9 h-2.9 Z M294.65 398.74 h2.9 v2.9 h-2.9 Z M303.75 407.12 h2.9 v2.9 h-2.9 Z M312.85 414.7 h2.9 v2.9 h-2.9 Z M321.95 423.02 h2.9 v2.9 h-2.9 Z M331.05 429.7 h2.9 v2.9 h-2.9 Z M340.15 436.41 h2.9 v2.9 h-2.9 Z M349.25 441.24 h2.9 v2.9 h-2.9 Z M358.35 449.16 h2.9 v2.9 h-2.9 Z M367.45 457.74 h2.9 v2.9 h-2.9 Z M376.55 466.84 h2.9 v2.9 h-2.9 Z M385.65 476.35 h2.9 v2.9 h-2.9 Z M394.75 488.97 h2.9 v2.9 h-2.9 Z M171.8 292.26 h2.9 v2.9 h-2.9 Z M176.35 300.01 h2.9 v2.9 h-2.9 Z M180.9 306.45 h2.9 v2.9 h-2.9 Z M185.45 311.47 h2.9 v2.9 h-2.9 Z M190 316.19 h2.9 v2.9 h-2.9 Z M194.55 321.27 h2.9 v2.9 h-2.9 Z M199.1 326.21 h2.9 v2.9 h-2.9 Z M203.65 330.75 h2.9 v2.9 h-2.9 Z M208.2 335.09 h2.9 v2.9 h-2.9 Z M212.75 339.36 h2.9 v2.9 h-2.9 Z M217.3 343.38 h2.9 v2.9 h-2.9 Z M221.85 346.99 h2.9 v2.9 h-2.9 Z M226.4 350.41 h2.9 v2.9 h-2.9 Z M230.95 353.71 h2.9 v2.9 h-2.9 Z M235.5 357.09 h2.9 v2.9 h-2.9 Z M240.05 360.9 h2.9 v2.9 h-2.9 Z M249.15 368.64 h2.9 v2.9 h-2.9 Z M258.25 375.45 h2.9 v2.9 h-2.9 Z M267.35 381.83 h2.9 v2.9 h-2.9 Z M276.45 387.8 h2.9 v2.9 h-2.9 Z M285.55 393.61 h2.9 v2.9 h-2.9 Z M294.65 400.07 h2.9 v2.9 h-2.9 Z M303.75 407.75 h2.9 v2.9 h-2.9 Z M312.85 415 h2.9 v2.9 h-2.9 Z M321.95 423.32 h2.9 v2.9 h-2.9 Z M331.05 432.94 h2.9 v2.9 h-2.9 Z M340.15 448.25 h2.9 v2.9 h-2.9 Z M349.25 488.85 h2.9 v2.9 h-2.9 Z" fill="#e6058f"/>
<path d="M173.25 308.9 L182.35 313 L191.45 318.7 L200.55 328.2 L209.65 333.9 L218.75 343.6 L227.85 350.1 L236.95 355.6 L249.69 366.5 L267.89 377.3 L286.09 386.6 L304.29 395.8 L322.49 405.2 L343.97 417.8 L382.28 434.9 L451.89 464.9" stroke="#333" stroke-width="0.5" fill="none"/>
<rect x="171.35" y="306.65" width="3.8" height="4.5" rx="0.9" fill="#000"/>
<path d="M171.25 305.9 h4 M171.25 311.9 h4" stroke="#000" stroke-width="0.7"/>
<rect x="180.45" y="310.75" width="3.8" height="4.5" rx="0.9" fill="#000"/>
<path d="M180.35 310 h4 M180.35 316 h4" stroke="#000" stroke-width="0.7"/>
<rect x="189.55" y="316.45" width="3.8" height="4.5" rx="0.9" fill="#000"/>
<path d="M189.45 315.7 h4 M189.45 321.7 h4" stroke="#000" stroke-width="0.7"/>
<rect x="198.65" y="325.95" width="3.8" height="4.5" rx="0.9" fill="#000"/>
<path d="M198.55 325.2 h4 M198.55 331.2 h4" stroke="#000" stroke-width="0.7"/>
<rect x="207.75" y="331.65" width="3.8" height="4.5" rx="0.9" fill="#000"/>
<path d="M207.65 330.9 h4 M207.65 336.9 h4" stroke="#000" stroke-width="0.7"/>
<rect x="216.85" y="341.35" width="3.8" height="4.5" rx="0.9" fill="#000"/>
<path d="M216.75 340.6 h4 M216.75 346.6 h4" stroke="#000" stroke-width="0.7"/>
<rect x="225.95" y="347.85" width="3.8" height="4.5" rx="0.9" fill="#000"/>
<path d="M225.85 347.1 h4 M225.85 353.1 h4" stroke="#000" stroke-width="0.7"/>
<rect x="235.05" y="353.35" width="3.8" height="4.5" rx="0.9" fill="#000"/>
<path d="M234.95 352.6 h4 M234.95 358.6 h4" stroke="#000" stroke-width="0.7"/>
<rect x="247.79" y="364.25" width="3.8" height="4.5" rx="0.9" fill="#000"/>
<path d="M247.69 363.5 h4 M247.69 369.5 h4" stroke="#000" stroke-width="0.7"/>
<rect x="265.99" y="375.05" width="3.8" height="4.5" rx="0.9" fill="#000"/>
<path d="M265.89 374.3 h4 M265.89 380.3 h4" stroke="#000" stroke-width="0.7"/>
<rect x="284.19" y="384.35" width="3.8" height="4.5" rx="0.9" fill="#000"/>
<path d="M284.09 383.6 h4 M284.09 389.6 h4" stroke="#000" stroke-width="0.7"/>
<rect x="302.39" y="393.55" width="3.8" height="4.5" rx="0.9" fill="#000"/>
<path d="M302.29 392.8 h4 M302.29 398.8 h4" stroke="#000" stroke-width="0.7"/>
<rect x="320.59" y="402.95" width="3.8" height="4.5" rx="0.9" fill="#000"/>
<path d="M320.49 402.2 h4 M320.49 408.2 h4" stroke="#000" stroke-width="0.7"/>
<rect x="342.07" y="415.55" width="3.8" height="4.5" rx="0.9" fill="#000"/>
<path d="M341.97 414.8 h4 M341.97 420.8 h4" stroke="#000" stroke-width="0.7"/>
<rect x="380.38" y="432.65" width="3.8" height="4.5" rx="0.9" fill="#000"/>
<path d="M380.28 431.9 h4 M380.28 437.9 h4" stroke="#000" stroke-width="0.7"/>
<rect x="449.99" y="462.65" width="3.8" height="4.5" rx="0.9" fill="#000"/>
<path d="M449.89 461.9 h4 M449.89 467.9 h4" stroke="#000" stroke-width="0.7"/>
</g>
<g clip-path="url(#c11)">
<path d="M491.95 298.02 L496.5 304.54 L501.05 310.49 L505.6 315.71 L510.15 320.81 L514.7 326.36 L519.25 331.58 L523.8 336.11 L528.35 340.32 L532.9 344.3 L537.45 348.09 L542 351.72 L546.55 355.19 L551.1 358.41 L555.65 361.63 L560.2 365.1 L569.3 371.71 L578.4 377.18 L587.5 382.27 L596.6 387.27 L605.7 392 L614.8 396.43 L623.9 400.63 L633 404.55 L642.1 408.57 L651.2 412.85 L660.3 416.92 L669.4 421.06 L678.5 425.28 L687.6 429.61 L696.7 433.93 L705.8 438.01 L714.9 441.91 L724 445.72 L733.1 449.49 L742.2 453.2 L751.3 456.96 L760.4 460.82 L769.5 464.67 L778.6 468.44 L778.6 477.87 L769.5 474.58 L760.4 470.64 L751.3 466.31 L742.2 461.7 L733.1 457.4 L724 453.53 L714.9 450.01 L705.8 446.49 L696.7 442.45 L687.6 437.81 L678.5 433.19 L669.4 428.94 L660.3 424.83 L651.2 420.77 L642.1 416.21 L633 410.98 L623.9 405.57 L614.8 400.86 L605.7 396.32 L596.6 391.41 L587.5 386.28 L578.4 381.15 L569.3 375.71 L560.2 369.1 L555.65 365.63 L551.1 362.41 L546.55 359.19 L542 355.75 L537.45 352.09 L532.9 348.11 L528.35 343.84 L523.8 339.36 L519.25 334.6 L514.7 329.36 L510.15 323.91 L505.6 318.87 L501.05 313.59 L496.5 307.28 L491.95 300.09 Z" fill="url(#h_lblue)" fill-opacity="1" stroke="none"/>
<path d="M491.95 298.02 L496.5 304.54 L501.05 310.49 L505.6 315.71 L510.15 320.81 L514.7 326.36 L519.25 331.58 L523.8 336.11 L528.35 340.32 L532.9 344.3 L537.45 348.09 L542 351.72 L546.55 355.19 L551.1 358.41 L555.65 361.63 L560.2 365.1 L569.3 371.71 L578.4 377.18 L587.5 382.27 L596.6 387.27 L605.7 392 L614.8 396.43 L623.9 400.63 L633 404.55 L642.1 408.57 L651.2 412.85 L660.3 416.92 L669.4 421.06 L678.5 425.28 L687.6 429.61 L696.7 433.93 L705.8 438.01 L714.9 441.91 L724 445.72 L733.1 449.49 L742.2 453.2 L751.3 456.96 L760.4 460.82 L769.5 464.67 L778.6 468.44" stroke="#0072c6" stroke-width="1.6" fill="none" stroke-linejoin="round"/>
<path d="M491.95 300.09 L496.5 307.28 L501.05 313.59 L505.6 318.87 L510.15 323.91 L514.7 329.36 L519.25 334.6 L523.8 339.36 L528.35 343.84 L532.9 348.11 L537.45 352.09 L542 355.75 L546.55 359.19 L551.1 362.41 L555.65 365.63 L560.2 369.1 L569.3 375.71 L578.4 381.15 L587.5 386.28 L596.6 391.41 L605.7 396.32 L614.8 400.86 L623.9 405.57 L633 410.98 L642.1 416.21 L651.2 420.77 L660.3 424.83 L669.4 428.94 L678.5 433.19 L687.6 437.81 L696.7 442.45 L705.8 446.49 L714.9 450.01 L724 453.53 L733.1 457.4 L742.2 461.7 L751.3 466.31 L760.4 470.64 L769.5 474.58 L778.6 477.87" stroke="#0072c6" stroke-width="1.6" fill="none" stroke-linejoin="round"/>
<path d="M491.95 293.23 L496.5 299.27 L501.05 304.36 L505.6 308.63 L510.15 312.85 L514.7 317.72 L519.25 322.43 L523.8 326.57 L528.35 330.5 L532.9 334.26 L537.45 338.11 L542 342.49 L546.55 346.7 L551.1 350.2 L555.65 353.66 L560.2 357.59 L569.3 364.97 L578.4 370.55 L587.5 375.68 L596.6 380.6 L605.7 385.69 L614.8 391.37 L623.9 397.32 L633 403.38 L642.1 409.99 L651.2 417.03 L660.3 421.49 L669.4 426.79 L678.5 432.63 L687.6 438.5 L696.7 444.35 L705.8 448.4 L714.9 452.92 L724 459.35 L733.1 464.54 L742.2 469.65 L751.3 475.83 L760.4 482.31 L769.5 488.38 L778.5 495.6 L778.5 532.5 L724.8 532.5 L724 491.13 L714.9 465.02 L705.8 454.95 L696.7 446.54 L687.6 438.8 L678.5 432.93 L669.4 427.09 L660.3 421.79 L651.2 417.33 L642.1 411.82 L633 406.31 L623.9 400.84 L614.8 395.36 L605.7 389.97 L596.6 384.93 L587.5 379.98 L578.4 374.87 L569.3 369.42 L560.2 362.85 L555.65 359.14 L551.1 355.08 L546.55 350.84 L542 346.82 L537.45 342.9 L532.9 339.09 L528.35 335.3 L523.8 331.48 L519.25 327.36 L514.7 322.05 L510.15 316.3 L505.6 311.56 L501.05 306.68 L496.5 300.49 L491.95 293.53 Z" fill="#ff0000" fill-opacity="0.6" stroke="none"/>
<path d="M491.95 293.23 L496.5 299.27 L501.05 304.36 L505.6 308.63 L510.15 312.85 L514.7 317.72 L519.25 322.43 L523.8 326.57 L528.35 330.5 L532.9 334.26 L537.45 338.11 L542 342.49 L546.55 346.7 L551.1 350.2 L555.65 353.66 L560.2 357.59 L569.3 364.97 L578.4 370.55 L587.5 375.68 L596.6 380.6 L605.7 385.69 L614.8 391.37 L623.9 397.32 L633 403.38 L642.1 409.99 L651.2 417.03 L660.3 421.49 L669.4 426.79 L678.5 432.63 L687.6 438.5 L696.7 444.35 L705.8 448.4 L714.9 452.92 L724 459.35 L733.1 464.54 L742.2 469.65 L751.3 475.83 L760.4 482.31 L769.5 488.38 L778.5 495.6" stroke="#ff0000" stroke-width="1.3" fill="none" stroke-linejoin="round"/>
<path d="M491.95 293.53 L496.5 300.49 L501.05 306.68 L505.6 311.56 L510.15 316.3 L514.7 322.05 L519.25 327.36 L523.8 331.48 L528.35 335.3 L532.9 339.09 L537.45 342.9 L542 346.82 L546.55 350.84 L551.1 355.08 L555.65 359.14 L560.2 362.85 L569.3 369.42 L578.4 374.87 L587.5 379.98 L596.6 384.93 L605.7 389.97 L614.8 395.36 L623.9 400.84 L633 406.31 L642.1 411.82 L651.2 417.33 L660.3 421.79 L669.4 427.09 L678.5 432.93 L687.6 438.8 L696.7 446.54 L705.8 454.95 L714.9 465.02 L724 491.13 L724.8 532.5" stroke="#ff0000" stroke-width="1.3" fill="none" stroke-linejoin="round"/>
<path d="M490.5 296.57 h2.9 v2.9 h-2.9 Z M495.05 303.09 h2.9 v2.9 h-2.9 Z M499.6 309.04 h2.9 v2.9 h-2.9 Z M504.15 314.26 h2.9 v2.9 h-2.9 Z M508.7 319.36 h2.9 v2.9 h-2.9 Z M513.25 324.91 h2.9 v2.9 h-2.9 Z M517.8 330.13 h2.9 v2.9 h-2.9 Z M522.35 334.66 h2.9 v2.9 h-2.9 Z M526.9 338.87 h2.9 v2.9 h-2.9 Z M531.45 342.85 h2.9 v2.9 h-2.9 Z M536 346.64 h2.9 v2.9 h-2.9 Z M540.55 350.27 h2.9 v2.9 h-2.9 Z M545.1 353.74 h2.9 v2.9 h-2.9 Z M549.65 356.96 h2.9 v2.9 h-2.9 Z M554.2 360.18 h2.9 v2.9 h-2.9 Z M558.75 363.65 h2.9 v2.9 h-2.9 Z M567.85 370.26 h2.9 v2.9 h-2.9 Z M576.95 375.73 h2.9 v2.9 h-2.9 Z M586.05 380.82 h2.9 v2.9 h-2.9 Z M595.15 385.82 h2.9 v2.9 h-2.9 Z M604.25 390.55 h2.9 v2.9 h-2.9 Z M613.35 394.98 h2.9 v2.9 h-2.9 Z M622.45 399.18 h2.9 v2.9 h-2.9 Z M631.55 403.1 h2.9 v2.9 h-2.9 Z M640.65 407.12 h2.9 v2.9 h-2.9 Z M649.75 411.4 h2.9 v2.9 h-2.9 Z M658.85 415.47 h2.9 v2.9 h-2.9 Z M667.95 419.61 h2.9 v2.9 h-2.9 Z M677.05 423.83 h2.9 v2.9 h-2.9 Z M686.15 428.16 h2.9 v2.9 h-2.9 Z M695.25 432.48 h2.9 v2.9 h-2.9 Z M704.35 436.56 h2.9 v2.9 h-2.9 Z M713.45 440.46 h2.9 v2.9 h-2.9 Z M722.55 444.27 h2.9 v2.9 h-2.9 Z M731.65 448.04 h2.9 v2.9 h-2.9 Z M740.75 451.75 h2.9 v2.9 h-2.9 Z M749.85 455.51 h2.9 v2.9 h-2.9 Z M758.95 459.37 h2.9 v2.9 h-2.9 Z M768.05 463.22 h2.9 v2.9 h-2.9 Z M777.15 466.99 h2.9 v2.9 h-2.9 Z M490.5 298.64 h2.9 v2.9 h-2.9 Z M495.05 305.83 h2.9 v2.9 h-2.9 Z M499.6 312.14 h2.9 v2.9 h-2.9 Z M504.15 317.42 h2.9 v2.9 h-2.9 Z M508.7 322.46 h2.9 v2.9 h-2.9 Z M513.25 327.91 h2.9 v2.9 h-2.9 Z M517.8 333.15 h2.9 v2.9 h-2.9 Z M522.35 337.91 h2.9 v2.9 h-2.9 Z M526.9 342.39 h2.9 v2.9 h-2.9 Z M531.45 346.66 h2.9 v2.9 h-2.9 Z M536 350.64 h2.9 v2.9 h-2.9 Z M540.55 354.3 h2.9 v2.9 h-2.9 Z M545.1 357.74 h2.9 v2.9 h-2.9 Z M549.65 360.96 h2.9 v2.9 h-2.9 Z M554.2 364.18 h2.9 v2.9 h-2.9 Z M558.75 367.65 h2.9 v2.9 h-2.9 Z M567.85 374.26 h2.9 v2.9 h-2.9 Z M576.95 379.7 h2.9 v2.9 h-2.9 Z M586.05 384.83 h2.9 v2.9 h-2.9 Z M595.15 389.96 h2.9 v2.9 h-2.9 Z M604.25 394.87 h2.9 v2.9 h-2.9 Z M613.35 399.41 h2.9 v2.9 h-2.9 Z M622.45 404.12 h2.9 v2.9 h-2.9 Z M631.55 409.53 h2.9 v2.9 h-2.9 Z M640.65 414.76 h2.9 v2.9 h-2.9 Z M649.75 419.32 h2.9 v2.9 h-2.9 Z M658.85 423.38 h2.9 v2.9 h-2.9 Z M667.95 427.49 h2.9 v2.9 h-2.9 Z M677.05 431.74 h2.9 v2.9 h-2.9 Z M686.15 436.36 h2.9 v2.9 h-2.9 Z M695.25 441 h2.9 v2.9 h-2.9 Z M704.35 445.04 h2.9 v2.9 h-2.9 Z M713.45 448.56 h2.9 v2.9 h-2.9 Z M722.55 452.08 h2.9 v2.9 h-2.9 Z M731.65 455.95 h2.9 v2.9 h-2.9 Z M740.75 460.25 h2.9 v2.9 h-2.9 Z M749.85 464.86 h2.9 v2.9 h-2.9 Z M758.95 469.19 h2.9 v2.9 h-2.9 Z M768.05 473.13 h2.9 v2.9 h-2.9 Z M777.15 476.42 h2.9 v2.9 h-2.9 Z" fill="#0072c6"/>
<path d="M490.5 291.78 h2.9 v2.9 h-2.9 Z M495.05 297.82 h2.9 v2.9 h-2.9 Z M499.6 302.91 h2.9 v2.9 h-2.9 Z M504.15 307.18 h2.9 v2.9 h-2.9 Z M508.7 311.4 h2.9 v2.9 h-2.9 Z M513.25 316.27 h2.9 v2.9 h-2.9 Z M517.8 320.98 h2.9 v2.9 h-2.9 Z M522.35 325.12 h2.9 v2.9 h-2.9 Z M526.9 329.05 h2.9 v2.9 h-2.9 Z M531.45 332.81 h2.9 v2.9 h-2.9 Z M536 336.66 h2.9 v2.9 h-2.9 Z M540.55 341.04 h2.9 v2.9 h-2.9 Z M545.1 345.25 h2.9 v2.9 h-2.9 Z M549.65 348.75 h2.9 v2.9 h-2.9 Z M554.2 352.21 h2.9 v2.9 h-2.9 Z M558.75 356.14 h2.9 v2.9 h-2.9 Z M567.85 363.52 h2.9 v2.9 h-2.9 Z M576.95 369.1 h2.9 v2.9 h-2.9 Z M586.05 374.23 h2.9 v2.9 h-2.9 Z M595.15 379.15 h2.9 v2.9 h-2.9 Z M604.25 384.24 h2.9 v2.9 h-2.9 Z M613.35 389.92 h2.9 v2.9 h-2.9 Z M622.45 395.87 h2.9 v2.9 h-2.9 Z M631.55 401.93 h2.9 v2.9 h-2.9 Z M640.65 408.54 h2.9 v2.9 h-2.9 Z M649.75 415.58 h2.9 v2.9 h-2.9 Z M658.85 420.04 h2.9 v2.9 h-2.9 Z M667.95 425.34 h2.9 v2.9 h-2.9 Z M677.05 431.18 h2.9 v2.9 h-2.9 Z M686.15 437.05 h2.9 v2.9 h-2.9 Z M695.25 442.9 h2.9 v2.9 h-2.9 Z M704.35 446.95 h2.9 v2.9 h-2.9 Z M713.45 451.47 h2.9 v2.9 h-2.9 Z M722.55 457.9 h2.9 v2.9 h-2.9 Z M731.65 463.09 h2.9 v2.9 h-2.9 Z M740.75 468.2 h2.9 v2.9 h-2.9 Z M749.85 474.38 h2.9 v2.9 h-2.9 Z M758.95 480.86 h2.9 v2.9 h-2.9 Z M768.05 486.93 h2.9 v2.9 h-2.9 Z M777.05 494.15 h2.9 v2.9 h-2.9 Z M490.5 292.08 h2.9 v2.9 h-2.9 Z M495.05 299.04 h2.9 v2.9 h-2.9 Z M499.6 305.23 h2.9 v2.9 h-2.9 Z M504.15 310.11 h2.9 v2.9 h-2.9 Z M508.7 314.85 h2.9 v2.9 h-2.9 Z M513.25 320.6 h2.9 v2.9 h-2.9 Z M517.8 325.91 h2.9 v2.9 h-2.9 Z M522.35 330.03 h2.9 v2.9 h-2.9 Z M526.9 333.85 h2.9 v2.9 h-2.9 Z M531.45 337.64 h2.9 v2.9 h-2.9 Z M536 341.45 h2.9 v2.9 h-2.9 Z M540.55 345.37 h2.9 v2.9 h-2.9 Z M545.1 349.39 h2.9 v2.9 h-2.9 Z M549.65 353.63 h2.9 v2.9 h-2.9 Z M554.2 357.69 h2.9 v2.9 h-2.9 Z M558.75 361.4 h2.9 v2.9 h-2.9 Z M567.85 367.97 h2.9 v2.9 h-2.9 Z M576.95 373.42 h2.9 v2.9 h-2.9 Z M586.05 378.53 h2.9 v2.9 h-2.9 Z M595.15 383.48 h2.9 v2.9 h-2.9 Z M604.25 388.52 h2.9 v2.9 h-2.9 Z M613.35 393.91 h2.9 v2.9 h-2.9 Z M622.45 399.39 h2.9 v2.9 h-2.9 Z M631.55 404.86 h2.9 v2.9 h-2.9 Z M640.65 410.37 h2.9 v2.9 h-2.9 Z M649.75 415.88 h2.9 v2.9 h-2.9 Z M658.85 420.34 h2.9 v2.9 h-2.9 Z M667.95 425.64 h2.9 v2.9 h-2.9 Z M677.05 431.48 h2.9 v2.9 h-2.9 Z M686.15 437.35 h2.9 v2.9 h-2.9 Z M695.25 445.09 h2.9 v2.9 h-2.9 Z M704.35 453.5 h2.9 v2.9 h-2.9 Z M713.45 463.57 h2.9 v2.9 h-2.9 Z M722.55 489.68 h2.9 v2.9 h-2.9 Z" fill="#ff0000"/>
<path d="M491.95 308.9 L501.05 313 L510.15 318.7 L519.25 328.2 L528.35 333.9 L537.45 343.6 L546.55 350.1 L555.65 355.6 L568.39 366.5 L586.59 377.3 L604.79 386.6 L622.99 395.8 L641.19 405.2 L662.67 417.8 L700.98 434.9 L770.59 464.9" stroke="#333" stroke-width="0.5" fill="none"/>
<rect x="490.05" y="306.65" width="3.8" height="4.5" rx="0.9" fill="#000"/>
<path d="M489.95 305.9 h4 M489.95 311.9 h4" stroke="#000" stroke-width="0.7"/>
<rect x="499.15" y="310.75" width="3.8" height="4.5" rx="0.9" fill="#000"/>
<path d="M499.05 310 h4 M499.05 316 h4" stroke="#000" stroke-width="0.7"/>
<rect x="508.25" y="316.45" width="3.8" height="4.5" rx="0.9" fill="#000"/>
<path d="M508.15 315.7 h4 M508.15 321.7 h4" stroke="#000" stroke-width="0.7"/>
<rect x="517.35" y="325.95" width="3.8" height="4.5" rx="0.9" fill="#000"/>
<path d="M517.25 325.2 h4 M517.25 331.2 h4" stroke="#000" stroke-width="0.7"/>
<rect x="526.45" y="331.65" width="3.8" height="4.5" rx="0.9" fill="#000"/>
<path d="M526.35 330.9 h4 M526.35 336.9 h4" stroke="#000" stroke-width="0.7"/>
<rect x="535.55" y="341.35" width="3.8" height="4.5" rx="0.9" fill="#000"/>
<path d="M535.45 340.6 h4 M535.45 346.6 h4" stroke="#000" stroke-width="0.7"/>
<rect x="544.65" y="347.85" width="3.8" height="4.5" rx="0.9" fill="#000"/>
<path d="M544.55 347.1 h4 M544.55 353.1 h4" stroke="#000" stroke-width="0.7"/>
<rect x="553.75" y="353.35" width="3.8" height="4.5" rx="0.9" fill="#000"/>
<path d="M553.65 352.6 h4 M553.65 358.6 h4" stroke="#000" stroke-width="0.7"/>
<rect x="566.49" y="364.25" width="3.8" height="4.5" rx="0.9" fill="#000"/>
<path d="M566.39 363.5 h4 M566.39 369.5 h4" stroke="#000" stroke-width="0.7"/>
<rect x="584.69" y="375.05" width="3.8" height="4.5" rx="0.9" fill="#000"/>
<path d="M584.59 374.3 h4 M584.59 380.3 h4" stroke="#000" stroke-width="0.7"/>
<rect x="602.89" y="384.35" width="3.8" height="4.5" rx="0.9" fill="#000"/>
<path d="M602.79 383.6 h4 M602.79 389.6 h4" stroke="#000" stroke-width="0.7"/>
<rect x="621.09" y="393.55" width="3.8" height="4.5" rx="0.9" fill="#000"/>
<path d="M620.99 392.8 h4 M620.99 398.8 h4" stroke="#000" stroke-width="0.7"/>
<rect x="639.29" y="402.95" width="3.8" height="4.5" rx="0.9" fill="#000"/>
<path d="M639.19 402.2 h4 M639.19 408.2 h4" stroke="#000" stroke-width="0.7"/>
<rect x="660.77" y="415.55" width="3.8" height="4.5" rx="0.9" fill="#000"/>
<path d="M660.67 414.8 h4 M660.67 420.8 h4" stroke="#000" stroke-width="0.7"/>
<rect x="699.08" y="432.65" width="3.8" height="4.5" rx="0.9" fill="#000"/>
<path d="M698.98 431.9 h4 M698.98 437.9 h4" stroke="#000" stroke-width="0.7"/>
<rect x="768.69" y="462.65" width="3.8" height="4.5" rx="0.9" fill="#000"/>
<path d="M768.59 461.9 h4 M768.59 467.9 h4" stroke="#000" stroke-width="0.7"/>
</g>
<path d="M150.5 1.8 H787.6 V530.7 H150.5 Z M469.2 1.8 V530.7 M150.5 266.3 H787.6" stroke="#000" stroke-width="1.6" fill="none"/>
<g opacity="0.999">
<text x="95.3" y="35.7" font-size="30.5" textLength="31.2" lengthAdjust="spacingAndGlyphs">10</text>
<text x="126.4" y="23.1" font-size="21.5" textLength="11" lengthAdjust="spacingAndGlyphs">1</text>
<text x="77" y="156.1" font-size="30.5" textLength="30.6" lengthAdjust="spacingAndGlyphs">10</text>
<path d="M109.7 137.7 H123.1" stroke="#000" stroke-width="1.25" fill="none" stroke-linecap="butt"/>
<text x="126.2" y="143.5" font-size="21.5" textLength="11.6" lengthAdjust="spacingAndGlyphs">3</text>
<text x="77" y="276.5" font-size="30.5" textLength="30.6" lengthAdjust="spacingAndGlyphs">10</text>
<path d="M109.7 258.1 H123.1" stroke="#000" stroke-width="1.25" fill="none" stroke-linecap="butt"/>
<text x="126.2" y="263.9" font-size="21.5" textLength="11.6" lengthAdjust="spacingAndGlyphs">7</text>
<text x="95.3" y="300.7" font-size="30.5" textLength="31.2" lengthAdjust="spacingAndGlyphs">10</text>
<text x="126.4" y="288.1" font-size="21.5" textLength="11" lengthAdjust="spacingAndGlyphs">1</text>
<text x="77" y="421.1" font-size="30.5" textLength="30.6" lengthAdjust="spacingAndGlyphs">10</text>
<path d="M109.7 402.7 H123.1" stroke="#000" stroke-width="1.25" fill="none" stroke-linecap="butt"/>
<text x="126.2" y="408.5" font-size="21.5" textLength="11.6" lengthAdjust="spacingAndGlyphs">3</text>
<text x="77" y="541.5" font-size="30.5" textLength="30.6" lengthAdjust="spacingAndGlyphs">10</text>
<path d="M109.7 523.1 H123.1" stroke="#000" stroke-width="1.25" fill="none" stroke-linecap="butt"/>
<text x="126.2" y="528.9" font-size="21.5" textLength="11.6" lengthAdjust="spacingAndGlyphs">7</text>
<text x="150.6" y="560.9" font-size="30.5" text-anchor="middle">0</text>
<text x="241.6" y="560.9" font-size="30.5" text-anchor="middle">1</text>
<text x="332.6" y="560.9" font-size="30.5" text-anchor="middle">2</text>
<text x="423.6" y="560.9" font-size="30.5" text-anchor="middle">3</text>
<text x="469.3" y="560.9" font-size="30.5" text-anchor="middle">0</text>
<text x="560.3" y="560.9" font-size="30.5" text-anchor="middle">1</text>
<text x="651.3" y="560.9" font-size="30.5" text-anchor="middle">2</text>
<text x="742.3" y="560.9" font-size="30.5" text-anchor="middle">3</text>
<text x="372.3" y="40.9" font-size="32" textLength="76" lengthAdjust="spacingAndGlyphs">GBW</text>
<text x="716.3" y="40.9" font-size="32" textLength="50.5" lengthAdjust="spacingAndGlyphs">MV</text>
<text x="403.4" y="305" font-size="32" textLength="44.6" lengthAdjust="spacingAndGlyphs">BK</text>
<text x="697" y="305" font-size="32" textLength="69.5" lengthAdjust="spacingAndGlyphs">rcBK</text>
<text x="254.2" y="603.8" font-size="32" class="i" textLength="14.6" lengthAdjust="spacingAndGlyphs">p</text>
<path d="M269.8 606 H285.4 M277.6 606 V593.1" stroke="#000" stroke-width="1.15" fill="none" stroke-linecap="butt"/>
<path d="M297.6 581.8 H292.6 V609.8 H297.6" stroke="#000" stroke-width="1.3" fill="none" stroke-linecap="butt"/>
<text x="297.3" y="603.8" font-size="32" textLength="60.3" lengthAdjust="spacingAndGlyphs">GeV</text>
<path d="M357.4 581.8 H362.4 V609.8 H357.4" stroke="#000" stroke-width="1.3" fill="none" stroke-linecap="butt"/>
<text x="572.9" y="603.8" font-size="32" class="i" textLength="14.6" lengthAdjust="spacingAndGlyphs">p</text>
<path d="M588.5 606 H604.1 M596.3 606 V593.1" stroke="#000" stroke-width="1.15" fill="none" stroke-linecap="butt"/>
<path d="M616.3 581.8 H611.3 V609.8 H616.3" stroke="#000" stroke-width="1.3" fill="none" stroke-linecap="butt"/>
<text x="616" y="603.8" font-size="32" textLength="60.3" lengthAdjust="spacingAndGlyphs">GeV</text>
<path d="M676.1 581.8 H681.1 V609.8 H676.1" stroke="#000" stroke-width="1.3" fill="none" stroke-linecap="butt"/>
<g transform="translate(41.6 134.5) rotate(-90)">
<path d="M-99.9 -8.3 H-15.8" stroke="#000" stroke-width="1.25" fill="none" stroke-linecap="butt"/>
<text x="-82.2" y="-11.8" font-size="21.5" textLength="13.2" lengthAdjust="spacingAndGlyphs">d</text>
<text x="-68.4" y="-20.6" font-size="15.5" textLength="10.6" lengthAdjust="spacingAndGlyphs">3</text>
<text x="-55.6" y="-11.8" font-size="21.5" class="i" textLength="17.6" lengthAdjust="spacingAndGlyphs">N</text>
<text x="-99.8" y="8.9" font-size="21.5" textLength="12.6" lengthAdjust="spacingAndGlyphs">d</text>
<text x="-87" y="8.9" font-size="21.5" class="i" textLength="11.6" lengthAdjust="spacingAndGlyphs">&#951;</text>
<text x="-75" y="8.9" font-size="21.5" textLength="12.6" lengthAdjust="spacingAndGlyphs">d</text>
<text x="-61.6" y="3.2" font-size="15.5" textLength="10.2" lengthAdjust="spacingAndGlyphs">2</text>
<text x="-49" y="8.9" font-size="21.5" class="i" textLength="11.4" lengthAdjust="spacingAndGlyphs">p</text>
<path d="M-35.3 15.6 H-21.2 M-28.2 15.6 V7.4" stroke="#000" stroke-width="1" fill="none" stroke-linecap="butt"/>
<path d="M1.6 -25.5 H-4.4 V9.1 H1.6" stroke="#000" stroke-width="1.3" fill="none" stroke-linecap="butt"/>
<text x="0.4" y="0" font-size="32" textLength="58.6" lengthAdjust="spacingAndGlyphs">GeV</text>
<path d="M62.3 -19.4 H76.8" stroke="#000" stroke-width="1.25" fill="none" stroke-linecap="butt"/>
<text x="79.8" y="-12.6" font-size="21.5" textLength="11.4" lengthAdjust="spacingAndGlyphs">2</text>
<path d="M93.4 -25.5 H99.4 V9.1 H93.4" stroke="#000" stroke-width="1.3" fill="none" stroke-linecap="butt"/>
</g>
<g transform="translate(41.6 399) rotate(-90)">
<path d="M-99.9 -8.3 H-15.8" stroke="#000" stroke-width="1.25" fill="none" stroke-linecap="butt"/>
<text x="-82.2" y="-11.8" font-size="21.5" textLength="13.2" lengthAdjust="spacingAndGlyphs">d</text>
<text x="-68.4" y="-20.6" font-size="15.5" textLength="10.6" lengthAdjust="spacingAndGlyphs">3</text>
<text x="-55.6" y="-11.8" font-size="21.5" class="i" textLength="17.6" lengthAdjust="spacingAndGlyphs">N</text>
<text x="-99.8" y="8.9" font-size="21.5" textLength="12.6" lengthAdjust="spacingAndGlyphs">d</text>
<text x="-87" y="8.9" font-size="21.5" class="i" textLength="11.6" lengthAdjust="spacingAndGlyphs">&#951;</text>
<text x="-75" y="8.9" font-size="21.5" textLength="12.6" lengthAdjust="spacingAndGlyphs">d</text>
<text x="-61.6" y="3.2" font-size="15.5" textLength="10.2" lengthAdjust="spacingAndGlyphs">2</text>
<text x="-49" y="8.9" font-size="21.5" class="i" textLength="11.4" lengthAdjust="spacingAndGlyphs">p</text>
<path d="M-35.3 15.6 H-21.2 M-28.2 15.6 V7.4" stroke="#000" stroke-width="1" fill="none" stroke-linecap="butt"/>
<path d="M1.6 -25.5 H-4.4 V9.1 H1.6" stroke="#000" stroke-width="1.3" fill="none" stroke-linecap="butt"/>
<text x="0.4" y="0" font-size="32" textLength="58.6" lengthAdjust="spacingAndGlyphs">GeV</text>
<path d="M62.3 -19.4 H76.8" stroke="#000" stroke-width="1.25" fill="none" stroke-linecap="butt"/>
<text x="79.8" y="-12.6" font-size="21.5" textLength="11.4" lengthAdjust="spacingAndGlyphs">2</text>
<path d="M93.4 -25.5 H99.4 V9.1 H93.4" stroke="#000" stroke-width="1.3" fill="none" stroke-linecap="butt"/>
</g>
<text x="165.4" y="245.3" font-size="15" class="i" textLength="9.2" lengthAdjust="spacingAndGlyphs" fill="#333" style="fill:#333">S</text>
<text x="175.6" y="238.1" font-size="10.8" textLength="14.6" lengthAdjust="spacingAndGlyphs" fill="#333" style="fill:#333">(2)</text>
<text x="175" y="246.7" font-size="10.8" class="i" textLength="6.6" lengthAdjust="spacingAndGlyphs" fill="#333" style="fill:#333">x</text>
<text x="182" y="248.9" font-size="9" class="i" textLength="5.6" lengthAdjust="spacingAndGlyphs" fill="#333" style="fill:#333">g</text>
<path d="M196.8 240 H206.7 M196.8 243 H206.7" stroke="#333" stroke-width="0.7" fill="none"/>
<text x="211.4" y="245.3" font-size="15" textLength="22.8" lengthAdjust="spacingAndGlyphs" fill="#333" style="fill:#333">exp</text>
<path d="M242.5 241.5 H250.7" stroke="#333" stroke-width="0.7" fill="none"/>
<path d="M255.2 240.9 H266.6" stroke="#333" stroke-width="0.7" fill="none"/>
<text x="255.6" y="238.3" font-size="10.8" class="i" textLength="5.6" lengthAdjust="spacingAndGlyphs" fill="#333" style="fill:#333">r</text>
<text x="262" y="235.9" font-size="9" textLength="4.6" lengthAdjust="spacingAndGlyphs" fill="#333" style="fill:#333">2</text>
<text x="258.2" y="249.8" font-size="10.8" textLength="5.8" lengthAdjust="spacingAndGlyphs" fill="#333" style="fill:#333">4</text>
<text x="269.3" y="245.3" font-size="15" class="i" textLength="12.2" lengthAdjust="spacingAndGlyphs" fill="#333" style="fill:#333">Q</text>
<text x="282" y="239.1" font-size="10.8" textLength="5.2" lengthAdjust="spacingAndGlyphs" fill="#333" style="fill:#333">2</text>
<text x="282" y="248.5" font-size="10.8" textLength="5.2" lengthAdjust="spacingAndGlyphs" fill="#333" style="fill:#333">0</text>
<path d="M293.9 232 C288.7 237.4 288.7 244.6 293.9 250" stroke="#333" stroke-width="0.75" fill="none"/>
<path d="M298 241 H311" stroke="#333" stroke-width="0.7" fill="none"/>
<text x="298.6" y="238.7" font-size="10.8" class="i" textLength="6.4" lengthAdjust="spacingAndGlyphs" fill="#333" style="fill:#333">x</text>
<text x="305.6" y="240.1" font-size="9" textLength="4.8" lengthAdjust="spacingAndGlyphs" fill="#333" style="fill:#333">0</text>
<text x="298.6" y="247.8" font-size="10.8" class="i" textLength="6.4" lengthAdjust="spacingAndGlyphs" fill="#333" style="fill:#333">x</text>
<text x="305.4" y="249.9" font-size="9" class="i" textLength="5.2" lengthAdjust="spacingAndGlyphs" fill="#333" style="fill:#333">g</text>
<path d="M313.5 232 C318.97 237.4 318.97 244.6 313.5 250" stroke="#333" stroke-width="0.75" fill="none"/>
<text x="320" y="236.3" font-size="10.8" class="i" textLength="6" lengthAdjust="spacingAndGlyphs" fill="#333" style="fill:#333">&#955;</text>
<path d="M240.8 232.6 H238.1 V249.4 H240.8" stroke="#333" stroke-width="0.75" fill="none"/>
<path d="M328.2 232.6 H330.9 V249.4 H328.2" stroke="#333" stroke-width="0.75" fill="none"/>
<text x="484.1" y="244.5" font-size="15" class="i" textLength="9.2" lengthAdjust="spacingAndGlyphs" fill="#333" style="fill:#333">S</text>
<text x="494.3" y="237.3" font-size="10.8" textLength="14.6" lengthAdjust="spacingAndGlyphs" fill="#333" style="fill:#333">(2)</text>
<text x="493.7" y="245.9" font-size="10.8" class="i" textLength="6.6" lengthAdjust="spacingAndGlyphs" fill="#333" style="fill:#333">x</text>
<text x="500.7" y="248.1" font-size="9" class="i" textLength="5.6" lengthAdjust="spacingAndGlyphs" fill="#333" style="fill:#333">g</text>
<path d="M515.5 239.2 H525.4 M515.5 242.2 H525.4" stroke="#333" stroke-width="0.7" fill="none"/>
<text x="530.1" y="244.5" font-size="15" textLength="22.8" lengthAdjust="spacingAndGlyphs" fill="#333" style="fill:#333">exp</text>
<path d="M561.2 240.7 H569.4" stroke="#333" stroke-width="0.7" fill="none"/>
<path d="M573.9 240.1 H585.3" stroke="#333" stroke-width="0.7" fill="none"/>
<text x="574.3" y="237.5" font-size="10.8" class="i" textLength="5.6" lengthAdjust="spacingAndGlyphs" fill="#333" style="fill:#333">r</text>
<text x="580.7" y="235.1" font-size="9" textLength="4.6" lengthAdjust="spacingAndGlyphs" fill="#333" style="fill:#333">2</text>
<text x="576.9" y="249" font-size="10.8" textLength="5.8" lengthAdjust="spacingAndGlyphs" fill="#333" style="fill:#333">4</text>
<text x="588" y="244.5" font-size="15" class="i" textLength="12.2" lengthAdjust="spacingAndGlyphs" fill="#333" style="fill:#333">Q</text>
<text x="600.7" y="238.3" font-size="10.8" textLength="5.2" lengthAdjust="spacingAndGlyphs" fill="#333" style="fill:#333">2</text>
<text x="600.7" y="247.7" font-size="10.8" textLength="5.2" lengthAdjust="spacingAndGlyphs" fill="#333" style="fill:#333">0</text>
<path d="M612.6 231.2 C607.4 236.6 607.4 243.8 612.6 249.2" stroke="#333" stroke-width="0.75" fill="none"/>
<path d="M616.7 240.2 H629.7" stroke="#333" stroke-width="0.7" fill="none"/>
<text x="617.3" y="237.9" font-size="10.8" class="i" textLength="6.4" lengthAdjust="spacingAndGlyphs" fill="#333" style="fill:#333">x</text>
<text x="624.3" y="239.3" font-size="9" textLength="4.8" lengthAdjust="spacingAndGlyphs" fill="#333" style="fill:#333">0</text>
<text x="617.3" y="247" font-size="10.8" class="i" textLength="6.4" lengthAdjust="spacingAndGlyphs" fill="#333" style="fill:#333">x</text>
<text x="624.1" y="249.1" font-size="9" class="i" textLength="5.2" lengthAdjust="spacingAndGlyphs" fill="#333" style="fill:#333">g</text>
<path d="M632.2 231.2 C637.67 236.6 637.67 243.8 632.2 249.2" stroke="#333" stroke-width="0.75" fill="none"/>
<text x="638.7" y="235.5" font-size="10.8" class="i" textLength="6" lengthAdjust="spacingAndGlyphs" fill="#333" style="fill:#333">&#955;</text>
<path d="M560.3 226.2 H556.8 V252.2 H560.3" stroke="#333" stroke-width="0.8" fill="none"/>
<text x="649.9" y="244.5" font-size="15" textLength="11.2" lengthAdjust="spacingAndGlyphs" fill="#333" style="fill:#333">ln</text>
<path d="M670.3 226.2 C662.17 234 662.17 244.4 670.3 252.2" stroke="#333" stroke-width="0.85" fill="none"/>
<text x="671" y="244.5" font-size="15" class="i" textLength="7.2" lengthAdjust="spacingAndGlyphs" fill="#333" style="fill:#333">e</text>
<path d="M682.3 240.7 H692.1 M687.2 235.8 V245.6" stroke="#333" stroke-width="0.7" fill="none"/>
<path d="M698.1 239.8 H713.1" stroke="#333" stroke-width="0.7" fill="none"/>
<text x="703.1" y="238.1" font-size="10.8" textLength="5" lengthAdjust="spacingAndGlyphs" fill="#333" style="fill:#333">1</text>
<text x="698.9" y="248.8" font-size="10.8" textLength="7.4" lengthAdjust="spacingAndGlyphs" fill="#333" style="fill:#333">&#923;</text>
<text x="706.7" y="248.8" font-size="10.8" class="i" textLength="5.4" lengthAdjust="spacingAndGlyphs" fill="#333" style="fill:#333">r</text>
<path d="M714.4 226.2 C723.07 234 723.07 244.4 714.4 252.2" stroke="#333" stroke-width="0.85" fill="none"/>
<path d="M723.5 226.2 H726.9 V252.2 H723.5" stroke="#333" stroke-width="0.8" fill="none"/>
</g>
</svg>
</body></html>
